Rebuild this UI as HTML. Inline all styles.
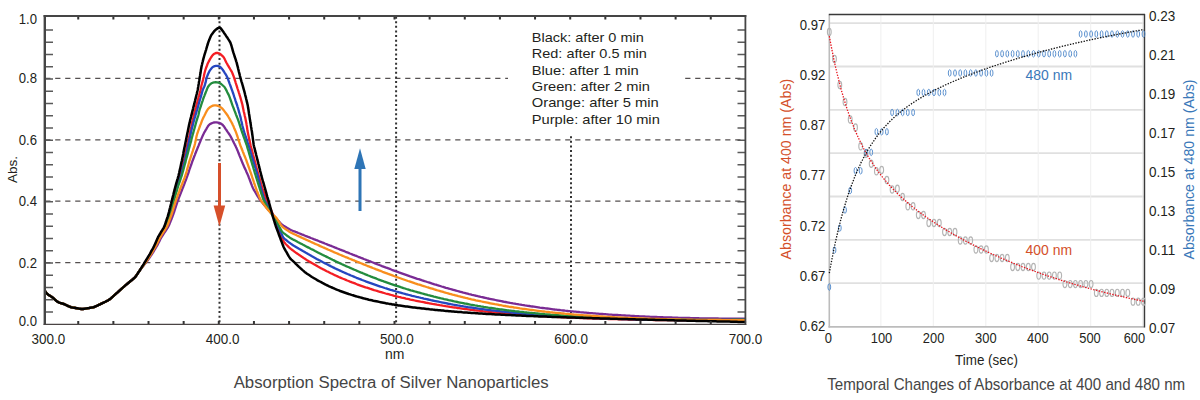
<!DOCTYPE html>
<html><head><meta charset="utf-8"><style>
html,body{margin:0;padding:0;background:#fff;width:1200px;height:400px;overflow:hidden}
svg{display:block}
text{font-family:"Liberation Sans", sans-serif}
</style></head><body>
<svg width="1200" height="400" viewBox="0 0 1200 400">
<line x1="45.2" y1="262.6" x2="744" y2="262.6" stroke="#555050" stroke-width="1.35" stroke-dasharray="5.25,4.75"/>
<line x1="45.2" y1="201.1" x2="744" y2="201.1" stroke="#555050" stroke-width="1.35" stroke-dasharray="5.25,4.75"/>
<line x1="45.2" y1="139.8" x2="744" y2="139.8" stroke="#555050" stroke-width="1.35" stroke-dasharray="5.25,4.75"/>
<line x1="45.2" y1="78.4" x2="744" y2="78.4" stroke="#555050" stroke-width="1.35" stroke-dasharray="5.25,4.75"/>
<line x1="219.5" y1="16.65" x2="219.5" y2="323.5" stroke="#333" stroke-width="2" stroke-dasharray="2,2.6"/>
<line x1="396.1" y1="16.65" x2="396.1" y2="323.5" stroke="#333" stroke-width="2" stroke-dasharray="2,2.6"/>
<line x1="571.0" y1="136.25" x2="571.0" y2="323.5" stroke="#333" stroke-width="2" stroke-dasharray="2,2.6"/>
<rect x="508" y="18" width="177" height="117" fill="#fff"/>
<g fill="none" stroke-linejoin="round" stroke-linecap="round">
<path d="M45.3,291.4 L45.9,292.3 L46.7,293.4 L47.8,294.4 L49.1,295.2 L50.3,296.0 L51.6,296.8 L52.8,297.7 L53.9,298.7 L55.0,299.7 L56.2,300.7 L57.3,301.6 L58.6,302.3 L60.0,302.9 L61.4,303.3 L62.9,303.7 L64.3,304.2 L65.6,304.8 L67.0,305.5 L68.3,306.1 L69.7,306.7 L71.1,307.2 L72.6,307.5 L74.0,307.7 L75.5,308.0 L77.0,308.3 L78.5,308.6 L79.9,308.8 L81.4,309.0 L82.9,309.0 L84.4,308.8 L85.9,308.6 L87.3,308.3 L88.8,308.1 L90.3,307.8 L91.8,307.6 L93.2,307.3 L94.7,306.8 L96.0,306.2 L97.4,305.6 L98.7,304.9 L100.1,304.3 L101.4,303.6 L102.8,303.0 L104.1,302.3 L105.5,301.7 L106.8,301.0 L108.2,300.3 L109.4,299.5 L110.6,298.6 L111.7,297.6 L112.8,296.6 L113.9,295.6 L115.0,294.6 L116.1,293.6 L117.3,292.6 L118.4,291.6 L119.5,290.6 L120.6,289.6 L121.7,288.6 L122.8,287.6 L124.0,286.6 L125.1,285.6 L126.3,284.6 L127.4,283.7 L128.6,282.7 L129.7,281.8 L130.9,280.8 L132.1,279.9 L133.2,278.9 L134.3,278.0 L135.3,276.9 L136.2,275.7 L137.1,274.4 L137.9,273.2 L138.7,271.9 L139.6,270.7 L140.5,269.5 L141.4,268.3 L142.3,267.1 L143.3,266.0 L144.2,264.8 L145.2,263.6 L146.1,262.5 L147.0,261.3 L147.9,260.0 L148.7,258.8 L149.6,257.6 L150.4,256.3 L151.3,255.1 L152.1,253.8 L152.9,252.6 L153.7,251.3 L154.5,250.0 L155.3,248.7 L156.0,247.5 L156.8,246.2 L157.5,244.9 L158.2,243.5 L158.9,242.2 L159.6,240.9 L160.2,239.5 L160.9,238.2 L161.7,236.9 L162.5,235.6 L163.3,234.3 L164.1,233.1 L165.0,231.9 L165.8,230.6 L166.6,229.4 L167.4,228.1 L168.2,226.8 L168.9,225.5 L169.5,224.1 L170.0,222.7 L170.6,221.3 L171.2,219.9 L171.7,218.5 L172.3,217.1 L172.8,215.7 L173.3,214.3 L173.8,212.9 L174.3,211.5 L174.7,210.1 L175.2,208.6 L175.7,207.2 L176.1,205.8 L176.6,204.4 L177.1,202.9 L177.5,201.5 L178.0,200.1 L178.6,198.7 L179.1,197.3 L179.7,195.9 L180.2,194.5 L180.8,193.1 L181.3,191.7 L181.9,190.3 L182.4,188.9 L183.0,187.5 L183.5,186.1 L184.1,184.7 L184.6,183.3 L185.1,181.9 L185.7,180.5 L186.2,179.1 L186.7,177.7 L187.2,176.3 L187.7,174.9 L188.2,173.5 L188.7,172.1 L189.1,170.6 L189.6,169.2 L190.1,167.8 L190.6,166.4 L191.1,165.0 L191.6,163.6 L192.1,162.2 L192.6,160.7 L193.2,159.3 L193.7,157.9 L194.2,156.5 L194.8,155.1 L195.3,153.7 L195.9,152.3 L196.4,150.9 L197.0,149.6 L197.5,148.2 L198.1,146.8 L198.7,145.4 L199.2,144.0 L199.8,142.6 L200.4,141.2 L200.9,139.8 L201.5,138.5 L202.1,137.1 L202.7,135.7 L203.4,134.3 L204.0,133.0 L204.8,131.7 L205.5,130.4 L206.3,129.1 L207.0,127.8 L207.8,126.5 L208.6,125.3 L209.7,124.3 L211.0,123.6 L212.3,123.0 L213.7,122.5 L215.1,122.3 L216.6,122.4 L218.0,122.7 L219.5,123.0 L220.8,123.6 L222.1,124.4 L223.1,125.4 L224.1,126.6 L224.9,127.8 L225.7,129.1 L226.6,130.3 L227.4,131.6 L228.3,132.8 L229.1,134.0 L230.0,135.3 L230.7,136.6 L231.4,137.9 L232.1,139.2 L232.8,140.6 L233.5,141.9 L234.1,143.2 L234.8,144.6 L235.5,145.9 L236.1,147.3 L236.7,148.6 L237.3,150.0 L237.9,151.4 L238.4,152.8 L239.0,154.2 L239.5,155.6 L240.1,157.0 L240.7,158.4 L241.2,159.8 L241.8,161.2 L242.3,162.6 L242.9,163.9 L243.5,165.3 L244.1,166.7 L244.7,168.1 L245.4,169.4 L246.0,170.8 L246.6,172.2 L247.2,173.5 L247.8,174.9 L248.4,176.3 L248.9,177.7 L249.5,179.1 L250.0,180.5 L250.5,181.9 L251.0,183.3 L251.6,184.7 L252.1,186.1 L252.7,187.5 L253.3,188.8 L254.0,190.2 L254.8,191.4 L255.6,192.7 L256.3,194.0 L257.1,195.3 L257.9,196.6 L258.7,197.8 L259.5,199.1 L260.4,200.3 L261.3,201.5 L262.3,202.6 L263.2,203.8 L264.2,204.9 L265.2,206.1 L266.2,207.2 L267.1,208.3 L268.1,209.5 L269.1,210.6 L270.1,211.7 L271.1,212.9 L272.1,214.0 L273.1,215.1 L274.1,216.2 L275.1,217.3 L276.1,218.5 L277.1,219.6 L278.1,220.7 L279.2,221.7 L280.2,222.8 L281.2,223.9 L282.4,224.8 L283.6,225.7 L284.9,226.5 L286.2,227.3 L287.4,228.1 L288.7,228.8 L290.0,229.5 L291.4,230.2 L292.8,230.8 L294.2,231.3 L295.6,231.9 L297.0,232.4 L298.3,233.0 L299.7,233.5 L301.1,234.1 L302.5,234.7 L303.9,235.2 L305.3,235.8 L306.7,236.3 L308.1,236.9 L309.5,237.4 L310.9,238.0 L312.3,238.5 L313.7,239.1 L315.1,239.6 L316.5,240.2 L317.9,240.7 L319.3,241.3 L320.7,241.8 L322.1,242.4 L323.5,242.9 L324.8,243.5 L326.2,244.0 L327.6,244.6 L329.0,245.1 L330.4,245.7 L331.8,246.2 L333.2,246.8 L334.6,247.4 L336.0,247.9 L337.4,248.5 L338.8,249.0 L340.2,249.6 L341.6,250.1 L343.0,250.7 L344.4,251.2 L345.7,251.8 L347.1,252.3 L348.5,252.9 L349.9,253.5 L351.3,254.0 L352.7,254.6 L354.1,255.1 L355.5,255.7 L356.9,256.2 L358.3,256.8 L359.7,257.3 L361.1,257.9 L362.5,258.4 L363.9,259.0 L365.3,259.5 L366.7,260.1 L368.1,260.6 L369.5,261.2 L370.9,261.7 L372.3,262.3 L373.6,262.8 L375.0,263.4 L376.4,263.9 L377.8,264.5 L379.2,265.0 L380.6,265.5 L382.0,266.1 L383.4,266.6 L384.8,267.1 L386.3,267.7 L387.7,268.2 L389.1,268.7 L390.5,269.2 L391.9,269.8 L393.3,270.3 L394.7,270.8 L396.1,271.3 L397.5,271.8 L398.9,272.4 L400.3,272.9 L401.7,273.4 L403.1,273.9 L404.6,274.4 L406.0,274.9 L407.4,275.4 L408.8,275.9 L410.2,276.4 L411.6,276.8 L413.1,277.3 L414.5,277.8 L415.9,278.3 L417.3,278.8 L418.8,279.2 L420.2,279.7 L421.6,280.2 L423.0,280.6 L424.5,281.1 L425.9,281.5 L427.3,282.0 L428.7,282.4 L430.2,282.9 L431.6,283.4 L433.0,283.8 L434.5,284.3 L435.9,284.7 L437.3,285.2 L438.8,285.6 L440.2,286.0 L441.6,286.5 L443.1,286.9 L444.5,287.3 L445.9,287.8 L447.4,288.2 L448.8,288.6 L450.3,289.0 L451.7,289.4 L453.2,289.8 L454.6,290.2 L456.0,290.6 L457.5,291.0 L458.9,291.4 L460.4,291.8 L461.8,292.2 L463.3,292.6 L464.7,292.9 L466.2,293.3 L467.6,293.7 L469.1,294.1 L470.6,294.4 L472.0,294.8 L473.5,295.1 L474.9,295.5 L476.4,295.8 L477.8,296.2 L479.3,296.5 L480.8,296.9 L482.2,297.2 L483.7,297.5 L485.2,297.8 L486.6,298.2 L488.1,298.5 L489.6,298.8 L491.0,299.1 L492.5,299.4 L494.0,299.7 L495.4,300.0 L496.9,300.3 L498.4,300.6 L499.8,300.9 L501.3,301.2 L502.8,301.5 L504.3,301.8 L505.7,302.0 L507.2,302.3 L508.7,302.6 L510.2,302.9 L511.6,303.1 L513.1,303.4 L514.6,303.6 L516.1,303.9 L517.5,304.1 L519.0,304.4 L520.5,304.6 L522.0,304.9 L523.5,305.1 L525.0,305.4 L526.4,305.6 L527.9,305.8 L529.4,306.0 L530.9,306.3 L532.4,306.5 L533.8,306.7 L535.3,306.9 L536.8,307.1 L538.3,307.3 L539.8,307.6 L541.3,307.8 L542.8,308.0 L544.2,308.2 L545.7,308.4 L547.2,308.5 L548.7,308.7 L550.2,308.9 L551.7,309.1 L553.2,309.3 L554.7,309.5 L556.2,309.6 L557.6,309.8 L559.1,310.0 L560.6,310.2 L562.1,310.3 L563.6,310.5 L565.1,310.7 L566.6,310.8 L568.1,311.0 L569.6,311.1 L571.1,311.3 L572.6,311.4 L574.1,311.6 L575.5,311.7 L577.0,311.9 L578.5,312.0 L580.0,312.2 L581.5,312.3 L583.0,312.4 L584.5,312.6 L586.0,312.7 L587.5,312.8 L589.0,313.0 L590.5,313.1 L592.0,313.2 L593.5,313.3 L595.0,313.4 L596.5,313.6 L598.0,313.7 L599.5,313.8 L600.9,313.9 L602.4,314.0 L603.9,314.1 L605.4,314.2 L606.9,314.3 L608.4,314.5 L609.9,314.6 L611.4,314.7 L612.9,314.8 L614.4,314.9 L615.9,314.9 L617.4,315.0 L618.9,315.1 L620.4,315.2 L621.9,315.3 L623.4,315.4 L624.9,315.5 L626.4,315.6 L627.9,315.7 L629.4,315.7 L630.9,315.8 L632.4,315.9 L633.9,316.0 L635.4,316.1 L636.9,316.1 L638.4,316.2 L639.9,316.3 L641.4,316.4 L642.9,316.4 L644.4,316.5 L645.9,316.6 L647.4,316.6 L648.9,316.7 L650.4,316.8 L651.9,316.8 L653.4,316.9 L654.9,316.9 L656.4,317.0 L657.9,317.1 L659.4,317.1 L660.9,317.2 L662.4,317.2 L663.9,317.3 L665.4,317.3 L666.9,317.4 L668.4,317.4 L669.9,317.5 L671.4,317.5 L672.9,317.6 L674.4,317.6 L675.8,317.7 L677.3,317.7 L678.8,317.8 L680.3,317.8 L681.8,317.8 L683.3,317.9 L684.8,317.9 L686.3,318.0 L687.8,318.0 L689.3,318.0 L690.8,318.1 L692.3,318.1 L693.8,318.1 L695.3,318.2 L696.8,318.2 L698.3,318.2 L699.8,318.3 L701.3,318.3 L702.8,318.3 L704.3,318.3 L705.8,318.4 L707.3,318.4 L708.8,318.4 L710.3,318.4 L711.8,318.5 L713.3,318.5 L714.8,318.5 L716.3,318.5 L717.8,318.5 L719.3,318.6 L720.8,318.6 L722.3,318.6 L723.8,318.6 L725.3,318.6 L726.8,318.6 L728.3,318.6 L729.8,318.7 L731.3,318.7 L732.8,318.7 L734.3,318.7 L735.8,318.7 L737.3,318.7 L738.8,318.7 L740.3,318.7 L741.8,318.7 L743.3,318.7 L744.3,318.7 L745.0,318.7" stroke="#7a2b94" stroke-width="2.3"/>
<path d="M45.3,291.4 L45.9,292.3 L46.7,293.4 L47.8,294.4 L49.1,295.2 L50.3,296.0 L51.6,296.8 L52.8,297.7 L53.9,298.7 L55.0,299.7 L56.2,300.7 L57.3,301.6 L58.6,302.3 L60.0,302.9 L61.4,303.3 L62.9,303.7 L64.3,304.2 L65.6,304.8 L67.0,305.5 L68.3,306.1 L69.7,306.7 L71.1,307.2 L72.6,307.5 L74.0,307.7 L75.5,308.0 L77.0,308.3 L78.5,308.6 L79.9,308.8 L81.4,309.0 L82.9,309.0 L84.4,308.8 L85.9,308.6 L87.3,308.3 L88.8,308.1 L90.3,307.8 L91.8,307.6 L93.2,307.3 L94.7,306.8 L96.0,306.2 L97.4,305.6 L98.7,304.9 L100.1,304.3 L101.4,303.6 L102.8,303.0 L104.1,302.3 L105.5,301.7 L106.8,301.0 L108.2,300.3 L109.4,299.5 L110.6,298.6 L111.7,297.6 L112.8,296.6 L113.9,295.6 L115.0,294.6 L116.1,293.6 L117.3,292.6 L118.4,291.6 L119.5,290.6 L120.6,289.6 L121.7,288.6 L122.8,287.6 L124.0,286.6 L125.1,285.6 L126.3,284.6 L127.4,283.7 L128.6,282.7 L129.7,281.8 L130.9,280.8 L132.1,279.9 L133.2,278.9 L134.3,278.0 L135.3,276.9 L136.2,275.7 L137.1,274.4 L137.9,273.2 L138.7,271.9 L139.6,270.7 L140.4,269.4 L141.2,268.2 L142.0,266.9 L142.9,265.7 L143.7,264.4 L144.5,263.2 L145.3,261.9 L146.1,260.6 L146.9,259.3 L147.7,258.1 L148.5,256.8 L149.2,255.5 L150.0,254.2 L150.7,252.9 L151.5,251.6 L152.2,250.3 L152.9,248.9 L153.6,247.6 L154.3,246.3 L155.0,245.0 L155.6,243.6 L156.3,242.2 L156.9,240.9 L157.4,239.5 L158.1,238.1 L158.8,236.8 L159.5,235.5 L160.3,234.2 L161.1,232.9 L161.9,231.7 L162.7,230.4 L163.4,229.1 L164.2,227.8 L164.8,226.5 L165.4,225.1 L166.0,223.7 L166.5,222.3 L167.0,220.9 L167.4,219.4 L167.9,218.0 L168.4,216.6 L168.9,215.2 L169.3,213.7 L169.7,212.3 L170.1,210.9 L170.5,209.4 L170.9,208.0 L171.3,206.5 L171.6,205.1 L172.0,203.6 L172.4,202.2 L172.8,200.7 L173.2,199.3 L173.6,197.8 L174.0,196.4 L174.4,194.9 L174.8,193.5 L175.2,192.0 L175.6,190.6 L176.0,189.1 L176.4,187.7 L176.8,186.2 L177.2,184.8 L177.7,183.4 L178.1,182.0 L178.6,180.5 L179.0,179.1 L179.5,177.7 L179.9,176.2 L180.3,174.8 L180.7,173.3 L181.1,171.9 L181.4,170.4 L181.8,169.0 L182.2,167.5 L182.5,166.1 L182.9,164.6 L183.2,163.1 L183.6,161.7 L183.9,160.2 L184.3,158.8 L184.6,157.3 L184.9,155.8 L185.2,154.4 L185.5,152.9 L185.9,151.4 L186.2,150.0 L186.5,148.5 L186.8,147.0 L187.1,145.6 L187.4,144.1 L187.8,142.6 L188.1,141.2 L188.4,139.7 L188.7,138.2 L189.0,136.8 L189.4,135.3 L189.7,133.8 L190.0,132.4 L190.3,130.9 L190.6,129.4 L190.9,128.0 L191.3,126.5 L191.6,125.0 L191.9,123.6 L192.2,122.1 L192.6,120.7 L192.9,119.2 L193.3,117.7 L193.6,116.3 L194.0,114.8 L194.4,113.4 L194.7,111.9 L195.1,110.5 L195.5,109.0 L195.9,107.6 L196.2,106.1 L196.6,104.7 L197.0,103.2 L197.4,101.8 L197.8,100.3 L198.2,98.9 L198.6,97.4 L199.0,96.0 L199.3,94.5 L199.7,93.1 L200.1,91.6 L200.5,90.2 L200.8,88.7 L201.1,87.2 L201.4,85.8 L201.8,84.3 L202.2,82.9 L202.6,81.4 L203.0,80.0 L203.3,78.5 L203.7,77.1 L204.0,75.6 L204.3,74.1 L204.6,72.7 L205.0,71.2 L205.4,69.8 L205.9,68.4 L206.4,67.0 L207.0,65.5 L207.5,64.1 L208.1,62.8 L208.8,61.4 L209.5,60.1 L210.2,58.8 L211.0,57.5 L211.8,56.3 L212.7,55.1 L213.8,54.1 L215.1,53.4 L216.4,52.9 L217.8,53.0 L219.2,53.4 L220.4,54.1 L221.5,55.1 L222.6,56.1 L223.6,57.2 L224.4,58.5 L225.0,59.8 L225.7,61.2 L226.3,62.5 L227.1,63.8 L227.8,65.1 L228.6,66.4 L229.3,67.7 L230.1,69.0 L230.9,70.3 L231.7,71.6 L232.3,72.9 L232.8,74.3 L233.4,75.7 L233.9,77.1 L234.4,78.5 L234.8,80.0 L235.3,81.4 L235.7,82.8 L236.2,84.3 L236.6,85.7 L237.1,87.1 L237.5,88.5 L238.0,90.0 L238.5,91.4 L238.9,92.8 L239.4,94.2 L239.8,95.7 L240.3,97.1 L240.7,98.6 L241.1,100.0 L241.5,101.4 L241.9,102.9 L242.3,104.3 L242.6,105.8 L242.9,107.3 L243.2,108.7 L243.5,110.2 L243.8,111.7 L244.2,113.1 L244.5,114.6 L244.8,116.1 L245.2,117.5 L245.5,119.0 L245.8,120.5 L246.1,121.9 L246.4,123.4 L246.6,124.9 L246.9,126.4 L247.1,127.8 L247.3,129.3 L247.5,130.8 L247.8,132.3 L248.1,133.8 L248.4,135.2 L248.7,136.7 L249.0,138.2 L249.3,139.6 L249.7,141.1 L250.0,142.6 L250.3,144.0 L250.6,145.5 L251.0,146.9 L251.4,148.4 L251.8,149.8 L252.2,151.3 L252.6,152.7 L252.9,154.2 L253.3,155.6 L253.7,157.1 L254.1,158.5 L254.5,160.0 L254.9,161.4 L255.3,162.9 L255.7,164.3 L256.0,165.8 L256.4,167.2 L256.8,168.7 L257.2,170.1 L257.6,171.6 L258.0,173.0 L258.4,174.5 L258.8,175.9 L259.2,177.4 L259.6,178.8 L260.0,180.2 L260.5,181.7 L260.9,183.1 L261.3,184.5 L261.8,186.0 L262.2,187.4 L262.6,188.8 L263.1,190.3 L263.6,191.7 L264.1,193.1 L264.6,194.5 L265.1,195.9 L265.6,197.4 L266.1,198.8 L266.6,200.2 L267.2,201.5 L267.8,202.9 L268.4,204.3 L269.0,205.7 L269.7,207.0 L270.3,208.4 L270.9,209.8 L271.5,211.1 L272.1,212.5 L272.7,213.9 L273.3,215.3 L273.8,216.7 L274.3,218.1 L274.7,219.5 L275.2,220.9 L275.6,222.4 L276.0,223.8 L276.5,225.3 L276.9,226.7 L277.4,228.1 L277.9,229.5 L278.5,230.9 L279.2,232.2 L279.8,233.6 L280.5,234.9 L281.1,236.3 L281.8,237.6 L282.4,239.0 L283.1,240.3 L283.8,241.6 L284.6,242.8 L285.6,244.0 L286.7,245.0 L287.8,246.1 L288.8,247.1 L289.9,248.1 L291.1,249.1 L292.3,250.0 L293.5,250.9 L294.7,251.8 L295.9,252.7 L297.1,253.5 L298.4,254.4 L299.6,255.2 L300.8,256.1 L302.1,256.9 L303.3,257.7 L304.6,258.6 L305.9,259.4 L307.1,260.2 L308.4,261.0 L309.7,261.7 L311.0,262.5 L312.3,263.3 L313.6,264.0 L314.9,264.8 L316.2,265.5 L317.5,266.3 L318.8,267.0 L320.1,267.7 L321.4,268.4 L322.7,269.1 L324.1,269.8 L325.4,270.5 L326.7,271.2 L328.1,271.8 L329.4,272.5 L330.8,273.2 L332.1,273.8 L333.5,274.5 L334.8,275.1 L336.2,275.7 L337.6,276.4 L338.9,277.0 L340.3,277.6 L341.7,278.2 L343.1,278.8 L344.4,279.3 L345.8,279.9 L347.2,280.5 L348.6,281.0 L350.0,281.6 L351.4,282.1 L352.8,282.7 L354.2,283.2 L355.6,283.7 L357.0,284.3 L358.4,284.8 L359.8,285.3 L361.2,285.8 L362.7,286.3 L364.1,286.8 L365.5,287.3 L366.9,287.7 L368.3,288.2 L369.8,288.7 L371.2,289.1 L372.6,289.6 L374.1,290.1 L375.5,290.5 L376.9,290.9 L378.4,291.4 L379.8,291.8 L381.2,292.2 L382.7,292.6 L384.1,293.0 L385.6,293.5 L387.0,293.8 L388.5,294.2 L389.9,294.6 L391.4,295.0 L392.8,295.4 L394.3,295.8 L395.7,296.1 L397.2,296.5 L398.6,296.9 L400.1,297.2 L401.5,297.6 L403.0,297.9 L404.5,298.2 L405.9,298.6 L407.4,298.9 L408.9,299.2 L410.3,299.6 L411.8,299.9 L413.3,300.2 L414.7,300.5 L416.2,300.8 L417.7,301.1 L419.1,301.4 L420.6,301.7 L422.1,301.9 L423.5,302.2 L425.0,302.5 L426.5,302.8 L428.0,303.0 L429.4,303.3 L430.9,303.6 L432.4,303.9 L433.9,304.1 L435.4,304.4 L436.8,304.7 L438.3,304.9 L439.8,305.2 L441.3,305.4 L442.7,305.7 L444.2,305.9 L445.7,306.2 L447.2,306.4 L448.7,306.6 L450.1,306.9 L451.6,307.1 L453.1,307.3 L454.6,307.5 L456.1,307.7 L457.6,308.0 L459.1,308.2 L460.5,308.4 L462.0,308.6 L463.5,308.8 L465.0,309.0 L466.5,309.2 L468.0,309.4 L469.5,309.6 L470.9,309.8 L472.4,309.9 L473.9,310.1 L475.4,310.3 L476.9,310.5 L478.4,310.7 L479.9,310.8 L481.4,311.0 L482.9,311.2 L484.4,311.3 L485.8,311.5 L487.3,311.7 L488.8,311.8 L490.3,312.0 L491.8,312.1 L493.3,312.3 L494.8,312.4 L496.3,312.6 L497.8,312.7 L499.3,312.8 L500.8,313.0 L502.3,313.1 L503.8,313.3 L505.3,313.4 L506.7,313.5 L508.2,313.7 L509.7,313.8 L511.2,313.9 L512.7,314.0 L514.2,314.2 L515.7,314.3 L517.2,314.4 L518.7,314.5 L520.2,314.6 L521.7,314.7 L523.2,314.8 L524.7,315.0 L526.2,315.1 L527.7,315.2 L529.2,315.3 L530.7,315.4 L532.2,315.5 L533.7,315.6 L535.2,315.7 L536.7,315.8 L538.2,315.9 L539.7,316.0 L541.2,316.0 L542.6,316.1 L544.1,316.2 L545.6,316.3 L547.1,316.4 L548.6,316.5 L550.1,316.6 L551.6,316.7 L553.1,316.7 L554.6,316.8 L556.1,316.9 L557.6,317.0 L559.1,317.0 L560.6,317.1 L562.1,317.2 L563.6,317.3 L565.1,317.3 L566.6,317.4 L568.1,317.5 L569.6,317.5 L571.1,317.6 L572.6,317.7 L574.1,317.7 L575.6,317.8 L577.1,317.9 L578.6,317.9 L580.1,318.0 L581.6,318.1 L583.1,318.1 L584.6,318.2 L586.1,318.2 L587.6,318.3 L589.1,318.3 L590.6,318.4 L592.1,318.4 L593.6,318.5 L595.1,318.6 L596.6,318.6 L598.1,318.7 L599.6,318.7 L601.1,318.8 L602.6,318.8 L604.1,318.8 L605.6,318.9 L607.1,318.9 L608.6,319.0 L610.1,319.0 L611.6,319.1 L613.1,319.1 L614.6,319.1 L616.1,319.2 L617.6,319.2 L619.1,319.3 L620.6,319.3 L622.1,319.3 L623.6,319.4 L625.1,319.4 L626.6,319.4 L628.1,319.5 L629.6,319.5 L631.1,319.6 L632.6,319.6 L634.1,319.6 L635.6,319.6 L637.1,319.7 L638.6,319.7 L640.1,319.7 L641.6,319.8 L643.1,319.8 L644.6,319.8 L646.1,319.8 L647.6,319.9 L649.1,319.9 L650.6,319.9 L652.1,319.9 L653.6,320.0 L655.1,320.0 L656.6,320.0 L658.1,320.0 L659.6,320.1 L661.1,320.1 L662.6,320.1 L664.1,320.1 L665.6,320.1 L667.1,320.2 L668.6,320.2 L670.1,320.2 L671.6,320.2 L673.1,320.2 L674.6,320.3 L676.1,320.3 L677.6,320.3 L679.1,320.3 L680.6,320.3 L682.1,320.3 L683.6,320.3 L685.1,320.4 L686.6,320.4 L688.1,320.4 L689.6,320.4 L691.1,320.4 L692.6,320.4 L694.1,320.4 L695.6,320.4 L697.1,320.4 L698.6,320.4 L700.1,320.5 L701.6,320.5 L703.1,320.5 L704.6,320.5 L706.1,320.5 L707.6,320.5 L709.1,320.5 L710.6,320.5 L712.1,320.5 L713.6,320.5 L715.1,320.5 L716.6,320.5 L718.1,320.5 L719.6,320.5 L721.1,320.5 L722.6,320.5 L724.1,320.5 L725.6,320.5 L727.1,320.5 L728.6,320.5 L730.1,320.5 L731.6,320.5 L733.1,320.5 L734.6,320.5 L736.1,320.5 L737.6,320.5 L739.1,320.5 L740.6,320.5 L742.1,320.5 L743.4,320.5 L745.0,320.5" stroke="#f41e24" stroke-width="2.3"/>
<path d="M45.3,291.4 L45.9,292.3 L46.7,293.4 L47.8,294.4 L49.1,295.2 L50.3,296.0 L51.6,296.8 L52.8,297.7 L53.9,298.7 L55.0,299.7 L56.2,300.7 L57.3,301.6 L58.6,302.3 L60.0,302.9 L61.4,303.3 L62.9,303.7 L64.3,304.2 L65.6,304.8 L67.0,305.5 L68.3,306.1 L69.7,306.7 L71.1,307.2 L72.6,307.5 L74.0,307.7 L75.5,308.0 L77.0,308.3 L78.5,308.6 L79.9,308.8 L81.4,309.0 L82.9,309.0 L84.4,308.8 L85.9,308.6 L87.3,308.3 L88.8,308.1 L90.3,307.8 L91.8,307.6 L93.2,307.3 L94.7,306.8 L96.0,306.2 L97.4,305.6 L98.7,304.9 L100.1,304.3 L101.4,303.6 L102.8,303.0 L104.1,302.3 L105.5,301.7 L106.8,301.0 L108.2,300.3 L109.4,299.5 L110.6,298.6 L111.7,297.6 L112.8,296.6 L113.9,295.6 L115.0,294.6 L116.1,293.6 L117.3,292.6 L118.4,291.6 L119.5,290.6 L120.6,289.6 L121.7,288.6 L122.8,287.6 L124.0,286.6 L125.1,285.6 L126.3,284.6 L127.4,283.7 L128.6,282.7 L129.7,281.8 L130.9,280.8 L132.1,279.9 L133.2,278.9 L134.3,278.0 L135.3,276.9 L136.2,275.7 L137.1,274.4 L137.9,273.2 L138.7,271.9 L139.6,270.7 L140.4,269.4 L141.2,268.2 L142.1,266.9 L142.9,265.7 L143.8,264.5 L144.6,263.2 L145.5,262.0 L146.3,260.7 L147.1,259.4 L147.8,258.2 L148.6,256.9 L149.4,255.6 L150.1,254.3 L150.9,253.0 L151.6,251.7 L152.3,250.4 L153.0,249.0 L153.8,247.7 L154.5,246.4 L155.2,245.1 L155.8,243.7 L156.4,242.4 L157.1,241.0 L157.7,239.6 L158.3,238.3 L159.0,236.9 L159.7,235.6 L160.5,234.3 L161.3,233.1 L162.1,231.8 L162.9,230.5 L163.7,229.3 L164.4,227.9 L165.1,226.6 L165.7,225.3 L166.3,223.9 L166.8,222.5 L167.3,221.0 L167.8,219.6 L168.3,218.2 L168.7,216.8 L169.2,215.4 L169.7,213.9 L170.1,212.5 L170.5,211.1 L170.9,209.6 L171.3,208.2 L171.7,206.7 L172.1,205.3 L172.5,203.8 L172.9,202.4 L173.3,200.9 L173.7,199.5 L174.1,198.0 L174.5,196.6 L174.9,195.2 L175.3,193.7 L175.7,192.3 L176.1,190.8 L176.6,189.4 L177.0,187.9 L177.4,186.5 L177.8,185.1 L178.3,183.7 L178.8,182.2 L179.2,180.8 L179.7,179.4 L180.2,177.9 L180.6,176.5 L181.1,175.1 L181.5,173.6 L181.9,172.2 L182.2,170.7 L182.6,169.3 L183.0,167.8 L183.4,166.4 L183.7,164.9 L184.1,163.5 L184.5,162.0 L184.8,160.6 L185.2,159.1 L185.5,157.6 L185.8,156.2 L186.1,154.7 L186.5,153.2 L186.8,151.8 L187.1,150.3 L187.4,148.9 L187.7,147.4 L188.1,145.9 L188.4,144.5 L188.7,143.0 L189.0,141.5 L189.3,140.1 L189.6,138.6 L190.0,137.1 L190.3,135.7 L190.6,134.2 L190.9,132.7 L191.2,131.3 L191.6,129.8 L191.9,128.3 L192.3,126.9 L192.7,125.4 L193.1,124.0 L193.4,122.5 L193.8,121.1 L194.2,119.6 L194.6,118.2 L195.1,116.8 L195.5,115.3 L195.9,113.9 L196.3,112.4 L196.7,111.0 L197.2,109.6 L197.6,108.1 L198.0,106.7 L198.4,105.2 L198.8,103.8 L199.2,102.4 L199.6,100.9 L200.0,99.5 L200.5,98.0 L200.9,96.6 L201.3,95.1 L201.7,93.7 L202.1,92.2 L202.5,90.8 L203.0,89.4 L203.6,88.0 L204.2,86.7 L204.8,85.3 L205.2,83.8 L205.6,82.4 L205.9,80.9 L206.2,79.5 L206.5,78.0 L207.0,76.6 L207.6,75.2 L208.2,73.8 L208.8,72.5 L209.5,71.1 L210.3,69.9 L211.2,68.7 L212.1,67.6 L213.3,66.7 L214.6,66.1 L216.0,65.8 L217.5,65.9 L218.9,66.3 L220.1,66.9 L221.2,67.9 L222.2,69.1 L223.1,70.3 L223.9,71.5 L224.7,72.8 L225.5,74.0 L226.3,75.3 L227.0,76.7 L227.6,78.0 L228.1,79.4 L228.6,80.8 L229.1,82.2 L229.6,83.6 L230.2,85.1 L230.7,86.5 L231.2,87.9 L231.7,89.3 L232.2,90.7 L232.7,92.1 L233.2,93.5 L233.7,95.0 L234.1,96.4 L234.6,97.8 L235.1,99.2 L235.5,100.6 L236.0,102.1 L236.5,103.5 L237.0,104.9 L237.4,106.3 L237.9,107.8 L238.3,109.2 L238.7,110.6 L239.1,112.1 L239.5,113.5 L239.9,115.0 L240.3,116.4 L240.7,117.9 L241.0,119.4 L241.3,120.8 L241.7,122.3 L242.0,123.7 L242.3,125.2 L242.7,126.7 L243.1,128.1 L243.5,129.5 L243.9,131.0 L244.3,132.4 L244.8,133.9 L245.3,135.3 L245.7,136.7 L246.2,138.1 L246.7,139.6 L247.2,141.0 L247.6,142.4 L248.1,143.8 L248.6,145.3 L249.0,146.7 L249.4,148.1 L249.9,149.6 L250.3,151.0 L250.7,152.4 L251.2,153.9 L251.6,155.3 L252.0,156.7 L252.5,158.2 L252.9,159.6 L253.3,161.1 L253.7,162.5 L254.2,163.9 L254.6,165.4 L255.0,166.8 L255.5,168.2 L255.9,169.7 L256.3,171.1 L256.8,172.5 L257.2,174.0 L257.6,175.4 L258.0,176.9 L258.4,178.3 L258.7,179.8 L259.1,181.2 L259.5,182.7 L259.9,184.1 L260.2,185.6 L260.6,187.0 L261.0,188.5 L261.4,189.9 L261.9,191.4 L262.3,192.8 L262.7,194.2 L263.2,195.7 L263.6,197.1 L264.1,198.5 L264.6,199.9 L265.2,201.3 L265.9,202.6 L266.7,203.9 L267.4,205.2 L268.1,206.5 L268.8,207.9 L269.5,209.2 L270.3,210.5 L271.0,211.8 L271.8,213.1 L272.5,214.4 L273.2,215.7 L274.0,217.0 L274.6,218.4 L275.2,219.7 L275.9,221.1 L276.5,222.5 L277.1,223.8 L277.7,225.2 L278.3,226.6 L278.9,227.9 L279.5,229.3 L280.1,230.7 L280.7,232.1 L281.3,233.5 L281.9,234.8 L282.5,236.2 L283.3,237.4 L284.3,238.5 L285.4,239.5 L286.6,240.4 L287.7,241.4 L288.9,242.3 L290.1,243.2 L291.3,244.1 L292.6,244.9 L293.9,245.7 L295.1,246.4 L296.4,247.2 L297.7,248.0 L299.0,248.8 L300.3,249.5 L301.6,250.3 L302.9,251.1 L304.2,251.8 L305.5,252.6 L306.8,253.3 L308.1,254.1 L309.4,254.8 L310.7,255.5 L312.0,256.3 L313.3,257.0 L314.6,257.7 L315.9,258.4 L317.2,259.2 L318.6,259.9 L319.9,260.6 L321.2,261.3 L322.5,262.0 L323.9,262.7 L325.2,263.4 L326.5,264.0 L327.9,264.7 L329.2,265.4 L330.6,266.1 L331.9,266.7 L333.2,267.4 L334.6,268.1 L335.9,268.7 L337.3,269.4 L338.7,270.0 L340.0,270.6 L341.4,271.3 L342.7,271.9 L344.1,272.5 L345.5,273.1 L346.9,273.7 L348.2,274.3 L349.6,274.9 L351.0,275.5 L352.4,276.0 L353.8,276.6 L355.2,277.2 L356.5,277.8 L357.9,278.3 L359.3,278.9 L360.7,279.4 L362.1,280.0 L363.5,280.5 L364.9,281.0 L366.3,281.6 L367.7,282.1 L369.1,282.6 L370.6,283.1 L372.0,283.6 L373.4,284.1 L374.8,284.6 L376.2,285.1 L377.6,285.6 L379.0,286.1 L380.5,286.6 L381.9,287.0 L383.3,287.5 L384.7,288.0 L386.2,288.4 L387.6,288.9 L389.0,289.3 L390.5,289.8 L391.9,290.2 L393.3,290.6 L394.8,291.0 L396.2,291.5 L397.7,291.9 L399.1,292.3 L400.5,292.7 L402.0,293.1 L403.4,293.5 L404.9,293.9 L406.3,294.3 L407.8,294.7 L409.2,295.0 L410.7,295.4 L412.1,295.8 L413.6,296.1 L415.1,296.5 L416.5,296.9 L418.0,297.2 L419.4,297.5 L420.9,297.9 L422.4,298.2 L423.8,298.6 L425.3,298.9 L426.7,299.2 L428.2,299.5 L429.7,299.8 L431.1,300.2 L432.6,300.5 L434.1,300.8 L435.5,301.1 L437.0,301.4 L438.5,301.7 L439.9,302.0 L441.4,302.3 L442.9,302.6 L444.4,302.9 L445.8,303.2 L447.3,303.5 L448.8,303.8 L450.3,304.0 L451.7,304.3 L453.2,304.6 L454.7,304.8 L456.2,305.1 L457.6,305.4 L459.1,305.6 L460.6,305.9 L462.1,306.1 L463.6,306.4 L465.0,306.6 L466.5,306.8 L468.0,307.1 L469.5,307.3 L471.0,307.5 L472.4,307.7 L473.9,308.0 L475.4,308.2 L476.9,308.4 L478.4,308.6 L479.9,308.8 L481.4,309.0 L482.8,309.2 L484.3,309.4 L485.8,309.6 L487.3,309.8 L488.8,310.0 L490.3,310.2 L491.8,310.4 L493.3,310.5 L494.8,310.7 L496.2,310.9 L497.7,311.1 L499.2,311.2 L500.7,311.4 L502.2,311.6 L503.7,311.7 L505.2,311.9 L506.7,312.0 L508.2,312.2 L509.7,312.4 L511.2,312.5 L512.6,312.7 L514.1,312.8 L515.6,312.9 L517.1,313.1 L518.6,313.2 L520.1,313.4 L521.6,313.5 L523.1,313.6 L524.6,313.8 L526.1,313.9 L527.6,314.0 L529.1,314.1 L530.6,314.3 L532.1,314.4 L533.6,314.5 L535.1,314.6 L536.6,314.7 L538.0,314.9 L539.5,315.0 L541.0,315.1 L542.5,315.2 L544.0,315.3 L545.5,315.4 L547.0,315.5 L548.5,315.6 L550.0,315.7 L551.5,315.8 L553.0,315.9 L554.5,316.0 L556.0,316.1 L557.5,316.2 L559.0,316.3 L560.5,316.4 L562.0,316.5 L563.5,316.5 L565.0,316.6 L566.5,316.7 L568.0,316.8 L569.5,316.9 L571.0,317.0 L572.5,317.0 L574.0,317.1 L575.5,317.2 L577.0,317.3 L578.5,317.3 L580.0,317.4 L581.5,317.5 L583.0,317.5 L584.5,317.6 L586.0,317.7 L587.5,317.7 L589.0,317.8 L590.5,317.9 L592.0,317.9 L593.5,318.0 L595.0,318.0 L596.5,318.1 L598.0,318.2 L599.5,318.2 L601.0,318.3 L602.5,318.3 L604.0,318.4 L605.4,318.4 L606.9,318.5 L608.4,318.5 L609.9,318.6 L611.4,318.6 L612.9,318.7 L614.4,318.7 L615.9,318.8 L617.4,318.8 L618.9,318.9 L620.4,318.9 L621.9,319.0 L623.4,319.0 L624.9,319.0 L626.4,319.1 L627.9,319.1 L629.4,319.2 L630.9,319.2 L632.4,319.2 L633.9,319.3 L635.4,319.3 L636.9,319.3 L638.4,319.4 L639.9,319.4 L641.4,319.4 L642.9,319.5 L644.4,319.5 L645.9,319.5 L647.4,319.6 L648.9,319.6 L650.4,319.6 L651.9,319.6 L653.4,319.7 L654.9,319.7 L656.4,319.7 L657.9,319.7 L659.4,319.8 L660.9,319.8 L662.4,319.8 L663.9,319.8 L665.4,319.8 L666.9,319.9 L668.4,319.9 L669.9,319.9 L671.4,319.9 L672.9,319.9 L674.4,320.0 L675.9,320.0 L677.4,320.0 L678.9,320.0 L680.4,320.0 L681.9,320.0 L683.4,320.0 L684.9,320.1 L686.4,320.1 L687.9,320.1 L689.4,320.1 L690.9,320.1 L692.4,320.1 L693.9,320.1 L695.4,320.1 L696.9,320.1 L698.4,320.1 L699.9,320.1 L701.4,320.1 L702.9,320.2 L704.4,320.2 L705.9,320.2 L707.4,320.2 L708.9,320.2 L710.4,320.2 L711.9,320.2 L713.4,320.2 L714.9,320.2 L716.4,320.2 L717.9,320.2 L719.4,320.2 L720.9,320.2 L722.4,320.2 L723.9,320.1 L725.4,320.1 L726.9,320.1 L728.4,320.1 L729.9,320.1 L731.4,320.1 L732.9,320.1 L734.4,320.1 L735.9,320.1 L737.4,320.1 L738.9,320.1 L740.4,320.1 L741.9,320.0 L743.4,320.0 L744.4,320.0 L745.0,320.0" stroke="#2647c0" stroke-width="2.3"/>
<path d="M45.3,291.4 L45.9,292.3 L46.7,293.4 L47.8,294.4 L49.1,295.2 L50.3,296.0 L51.6,296.8 L52.8,297.7 L53.9,298.7 L55.0,299.7 L56.2,300.7 L57.3,301.6 L58.6,302.3 L60.0,302.9 L61.4,303.3 L62.9,303.7 L64.3,304.2 L65.6,304.8 L67.0,305.5 L68.3,306.1 L69.7,306.7 L71.1,307.2 L72.6,307.5 L74.0,307.7 L75.5,308.0 L77.0,308.3 L78.5,308.6 L79.9,308.8 L81.4,309.0 L82.9,309.0 L84.4,308.8 L85.9,308.6 L87.3,308.3 L88.8,308.1 L90.3,307.8 L91.8,307.6 L93.2,307.3 L94.7,306.8 L96.0,306.2 L97.4,305.6 L98.7,304.9 L100.1,304.3 L101.4,303.6 L102.8,303.0 L104.1,302.3 L105.5,301.7 L106.8,301.0 L108.2,300.3 L109.4,299.5 L110.6,298.6 L111.7,297.6 L112.8,296.6 L113.9,295.6 L115.0,294.6 L116.1,293.6 L117.3,292.6 L118.4,291.6 L119.5,290.6 L120.6,289.6 L121.7,288.6 L122.8,287.6 L124.0,286.6 L125.1,285.6 L126.3,284.6 L127.4,283.7 L128.6,282.7 L129.7,281.8 L130.9,280.8 L132.1,279.9 L133.2,278.9 L134.3,278.0 L135.3,276.9 L136.2,275.7 L137.1,274.4 L137.9,273.2 L138.7,271.9 L139.6,270.7 L140.4,269.4 L141.3,268.2 L142.1,267.0 L143.0,265.8 L143.9,264.5 L144.8,263.3 L145.6,262.1 L146.4,260.8 L147.2,259.5 L148.0,258.3 L148.7,257.0 L149.5,255.7 L150.3,254.4 L151.0,253.1 L151.7,251.8 L152.5,250.5 L153.2,249.1 L153.9,247.8 L154.6,246.5 L155.3,245.2 L156.0,243.8 L156.6,242.5 L157.3,241.1 L157.9,239.8 L158.5,238.4 L159.2,237.1 L159.9,235.8 L160.7,234.5 L161.5,233.2 L162.3,231.9 L163.1,230.7 L163.9,229.4 L164.6,228.1 L165.4,226.8 L166.0,225.4 L166.6,224.0 L167.1,222.6 L167.6,221.2 L168.1,219.8 L168.6,218.4 L169.1,217.0 L169.6,215.6 L170.0,214.1 L170.4,212.7 L170.9,211.3 L171.3,209.8 L171.7,208.4 L172.1,206.9 L172.5,205.5 L172.9,204.0 L173.3,202.6 L173.7,201.1 L174.1,199.7 L174.5,198.3 L175.0,196.8 L175.4,195.4 L175.8,194.0 L176.2,192.5 L176.7,191.1 L177.1,189.6 L177.5,188.2 L178.0,186.8 L178.4,185.3 L178.9,183.9 L179.4,182.5 L179.9,181.1 L180.4,179.7 L180.8,178.2 L181.3,176.8 L181.8,175.4 L182.2,174.0 L182.6,172.5 L183.0,171.1 L183.4,169.6 L183.8,168.2 L184.2,166.7 L184.6,165.3 L185.0,163.8 L185.4,162.4 L185.7,160.9 L186.1,159.5 L186.5,158.0 L186.9,156.6 L187.3,155.1 L187.7,153.7 L188.1,152.2 L188.5,150.8 L188.8,149.3 L189.2,147.9 L189.6,146.4 L190.0,145.0 L190.4,143.5 L190.8,142.1 L191.2,140.6 L191.5,139.2 L191.9,137.7 L192.3,136.3 L192.7,134.8 L193.1,133.4 L193.5,131.9 L193.9,130.5 L194.3,129.0 L194.7,127.6 L195.1,126.2 L195.5,124.7 L195.9,123.3 L196.3,121.8 L196.7,120.4 L197.2,119.0 L197.6,117.5 L198.1,116.1 L198.5,114.7 L198.8,113.2 L199.1,111.7 L199.5,110.3 L199.9,108.8 L200.4,107.4 L200.9,106.0 L201.3,104.6 L201.8,103.2 L202.3,101.7 L202.8,100.3 L203.2,98.9 L203.7,97.5 L204.3,96.1 L204.8,94.7 L205.4,93.3 L205.9,91.9 L206.5,90.5 L207.0,89.1 L207.6,87.7 L208.3,86.4 L209.2,85.3 L210.3,84.2 L211.4,83.3 L212.8,82.7 L214.2,82.4 L215.7,82.2 L217.1,82.4 L218.6,82.7 L219.9,83.2 L221.2,84.0 L222.3,85.0 L223.4,86.0 L224.5,87.0 L225.3,88.3 L226.0,89.6 L226.7,90.9 L227.3,92.3 L228.0,93.6 L228.7,94.9 L229.3,96.3 L229.8,97.7 L230.3,99.1 L230.8,100.5 L231.3,101.9 L231.8,103.4 L232.3,104.8 L232.8,106.2 L233.4,107.6 L233.9,109.0 L234.4,110.4 L235.0,111.8 L235.5,113.2 L236.0,114.6 L236.6,116.0 L237.1,117.4 L237.7,118.8 L238.2,120.2 L238.7,121.6 L239.2,123.0 L239.6,124.5 L240.1,125.9 L240.5,127.3 L241.0,128.7 L241.4,130.2 L241.9,131.6 L242.4,133.0 L242.9,134.4 L243.4,135.9 L243.9,137.3 L244.4,138.7 L244.9,140.1 L245.4,141.5 L245.9,142.9 L246.4,144.3 L246.9,145.7 L247.3,147.2 L247.7,148.6 L248.2,150.1 L248.6,151.5 L249.0,152.9 L249.4,154.4 L249.8,155.8 L250.2,157.3 L250.6,158.7 L251.1,160.2 L251.5,161.6 L251.9,163.0 L252.3,164.5 L252.8,165.9 L253.2,167.3 L253.6,168.8 L254.1,170.2 L254.5,171.6 L254.9,173.1 L255.4,174.5 L255.8,176.0 L256.2,177.4 L256.7,178.8 L257.1,180.3 L257.6,181.7 L258.0,183.1 L258.5,184.6 L258.9,186.0 L259.4,187.4 L259.8,188.8 L260.3,190.3 L260.8,191.7 L261.2,193.1 L261.7,194.5 L262.2,196.0 L262.6,197.4 L263.1,198.8 L263.7,200.2 L264.4,201.5 L265.1,202.8 L265.8,204.2 L266.5,205.5 L267.2,206.8 L268.0,208.1 L268.7,209.4 L269.5,210.7 L270.3,212.0 L271.1,213.2 L271.9,214.5 L272.7,215.8 L273.5,217.0 L274.3,218.3 L275.2,219.5 L276.0,220.8 L276.8,222.0 L277.6,223.3 L278.3,224.6 L279.0,226.0 L279.6,227.3 L280.3,228.6 L281.0,230.0 L281.8,231.2 L282.7,232.4 L283.9,233.3 L285.1,234.2 L286.3,235.1 L287.5,236.0 L288.7,236.8 L289.9,237.7 L291.2,238.4 L292.5,239.2 L293.9,239.9 L295.2,240.6 L296.5,241.3 L297.8,242.0 L299.2,242.7 L300.5,243.4 L301.8,244.1 L303.1,244.8 L304.5,245.5 L305.8,246.2 L307.1,246.9 L308.5,247.6 L309.8,248.3 L311.1,249.0 L312.5,249.6 L313.8,250.3 L315.1,251.0 L316.5,251.7 L317.8,252.4 L319.1,253.1 L320.5,253.7 L321.8,254.4 L323.1,255.1 L324.5,255.8 L325.8,256.4 L327.2,257.1 L328.5,257.8 L329.9,258.4 L331.2,259.1 L332.6,259.8 L333.9,260.4 L335.3,261.1 L336.6,261.7 L338.0,262.4 L339.3,263.0 L340.7,263.6 L342.0,264.3 L343.4,264.9 L344.8,265.5 L346.1,266.1 L347.5,266.7 L348.9,267.3 L350.2,267.9 L351.6,268.5 L353.0,269.1 L354.4,269.7 L355.8,270.3 L357.1,270.9 L358.5,271.5 L359.9,272.1 L361.3,272.7 L362.7,273.2 L364.1,273.8 L365.4,274.4 L366.8,274.9 L368.2,275.5 L369.6,276.0 L371.0,276.6 L372.4,277.1 L373.8,277.7 L375.2,278.2 L376.6,278.7 L378.0,279.3 L379.4,279.8 L380.8,280.3 L382.2,280.8 L383.7,281.4 L385.1,281.9 L386.5,282.4 L387.9,282.9 L389.3,283.4 L390.7,283.9 L392.1,284.3 L393.6,284.8 L395.0,285.3 L396.4,285.8 L397.8,286.2 L399.3,286.7 L400.7,287.2 L402.1,287.6 L403.5,288.1 L405.0,288.5 L406.4,289.0 L407.8,289.4 L409.3,289.8 L410.7,290.3 L412.2,290.7 L413.6,291.1 L415.0,291.5 L416.5,291.9 L417.9,292.3 L419.4,292.7 L420.8,293.1 L422.3,293.5 L423.7,293.9 L425.2,294.3 L426.6,294.7 L428.1,295.1 L429.5,295.4 L431.0,295.8 L432.4,296.2 L433.9,296.6 L435.3,296.9 L436.8,297.3 L438.2,297.7 L439.7,298.0 L441.2,298.4 L442.6,298.7 L444.1,299.1 L445.5,299.4 L447.0,299.7 L448.5,300.1 L449.9,300.4 L451.4,300.7 L452.9,301.0 L454.3,301.4 L455.8,301.7 L457.3,302.0 L458.7,302.3 L460.2,302.6 L461.7,302.9 L463.1,303.2 L464.6,303.5 L466.1,303.7 L467.6,304.0 L469.0,304.3 L470.5,304.6 L472.0,304.8 L473.5,305.1 L474.9,305.4 L476.4,305.6 L477.9,305.9 L479.4,306.1 L480.8,306.4 L482.3,306.6 L483.8,306.9 L485.3,307.1 L486.8,307.3 L488.3,307.6 L489.7,307.8 L491.2,308.0 L492.7,308.2 L494.2,308.4 L495.7,308.7 L497.2,308.9 L498.6,309.1 L500.1,309.3 L501.6,309.5 L503.1,309.7 L504.6,309.9 L506.1,310.1 L507.6,310.3 L509.1,310.5 L510.5,310.6 L512.0,310.8 L513.5,311.0 L515.0,311.2 L516.5,311.3 L518.0,311.5 L519.5,311.7 L521.0,311.8 L522.5,312.0 L524.0,312.2 L525.4,312.3 L526.9,312.5 L528.4,312.6 L529.9,312.8 L531.4,312.9 L532.9,313.1 L534.4,313.2 L535.9,313.4 L537.4,313.5 L538.9,313.6 L540.4,313.8 L541.9,313.9 L543.4,314.0 L544.9,314.2 L546.4,314.3 L547.8,314.4 L549.3,314.5 L550.8,314.7 L552.3,314.8 L553.8,314.9 L555.3,315.0 L556.8,315.1 L558.3,315.2 L559.8,315.3 L561.3,315.4 L562.8,315.5 L564.3,315.7 L565.8,315.8 L567.3,315.9 L568.8,316.0 L570.3,316.0 L571.8,316.1 L573.3,316.2 L574.8,316.3 L576.3,316.4 L577.8,316.5 L579.3,316.6 L580.8,316.7 L582.3,316.8 L583.8,316.8 L585.3,316.9 L586.8,317.0 L588.3,317.1 L589.8,317.2 L591.3,317.2 L592.8,317.3 L594.2,317.4 L595.7,317.4 L597.2,317.5 L598.7,317.6 L600.2,317.6 L601.7,317.7 L603.2,317.8 L604.7,317.8 L606.2,317.9 L607.7,318.0 L609.2,318.0 L610.7,318.1 L612.2,318.1 L613.7,318.2 L615.2,318.3 L616.7,318.3 L618.2,318.4 L619.7,318.4 L621.2,318.5 L622.7,318.5 L624.2,318.6 L625.7,318.6 L627.2,318.7 L628.7,318.7 L630.2,318.7 L631.7,318.8 L633.2,318.8 L634.7,318.9 L636.2,318.9 L637.7,318.9 L639.2,319.0 L640.7,319.0 L642.2,319.1 L643.7,319.1 L645.2,319.1 L646.7,319.2 L648.2,319.2 L649.7,319.2 L651.2,319.3 L652.7,319.3 L654.2,319.3 L655.7,319.3 L657.2,319.4 L658.7,319.4 L660.2,319.4 L661.7,319.5 L663.2,319.5 L664.7,319.5 L666.2,319.5 L667.7,319.5 L669.2,319.6 L670.7,319.6 L672.2,319.6 L673.7,319.6 L675.2,319.6 L676.7,319.7 L678.2,319.7 L679.7,319.7 L681.2,319.7 L682.7,319.7 L684.2,319.7 L685.7,319.7 L687.2,319.8 L688.7,319.8 L690.2,319.8 L691.7,319.8 L693.2,319.8 L694.7,319.8 L696.2,319.8 L697.7,319.8 L699.2,319.8 L700.7,319.8 L702.2,319.8 L703.7,319.8 L705.2,319.8 L706.7,319.8 L708.2,319.8 L709.7,319.8 L711.2,319.8 L712.7,319.8 L714.2,319.8 L715.7,319.8 L717.2,319.8 L718.7,319.8 L720.2,319.8 L721.7,319.8 L723.2,319.8 L724.7,319.8 L726.2,319.8 L727.7,319.8 L729.2,319.8 L730.7,319.8 L732.2,319.7 L733.7,319.7 L735.2,319.7 L736.7,319.7 L738.2,319.7 L739.7,319.7 L741.2,319.6 L742.7,319.6 L743.9,319.6 L745.0,319.6" stroke="#238c3e" stroke-width="2.3"/>
<path d="M45.3,291.4 L45.9,292.3 L46.7,293.4 L47.8,294.4 L49.1,295.2 L50.3,296.0 L51.6,296.8 L52.8,297.7 L53.9,298.7 L55.0,299.7 L56.2,300.7 L57.3,301.6 L58.6,302.3 L60.0,302.9 L61.4,303.3 L62.9,303.7 L64.3,304.2 L65.6,304.8 L67.0,305.5 L68.3,306.1 L69.7,306.7 L71.1,307.2 L72.6,307.5 L74.0,307.7 L75.5,308.0 L77.0,308.3 L78.5,308.6 L79.9,308.8 L81.4,309.0 L82.9,309.0 L84.4,308.8 L85.9,308.6 L87.3,308.3 L88.8,308.1 L90.3,307.8 L91.8,307.6 L93.2,307.3 L94.7,306.8 L96.0,306.2 L97.4,305.6 L98.7,304.9 L100.1,304.3 L101.4,303.6 L102.8,303.0 L104.1,302.3 L105.5,301.7 L106.8,301.0 L108.2,300.3 L109.4,299.5 L110.6,298.6 L111.7,297.6 L112.8,296.6 L113.9,295.6 L115.0,294.6 L116.1,293.6 L117.3,292.6 L118.4,291.6 L119.5,290.6 L120.6,289.6 L121.7,288.6 L122.8,287.6 L124.0,286.6 L125.1,285.6 L126.3,284.6 L127.4,283.7 L128.6,282.7 L129.7,281.8 L130.9,280.8 L132.1,279.9 L133.2,278.9 L134.3,278.0 L135.3,276.9 L136.2,275.7 L137.1,274.4 L137.9,273.2 L138.7,271.9 L139.6,270.7 L140.4,269.4 L141.3,268.2 L142.2,267.0 L143.1,265.8 L144.0,264.6 L144.9,263.4 L145.8,262.2 L146.6,261.0 L147.5,259.7 L148.3,258.5 L149.1,257.2 L149.9,256.0 L150.7,254.7 L151.5,253.4 L152.3,252.1 L153.0,250.8 L153.8,249.5 L154.5,248.2 L155.3,246.9 L156.0,245.6 L156.7,244.3 L157.4,243.0 L158.0,241.6 L158.7,240.2 L159.3,238.9 L160.0,237.6 L160.8,236.3 L161.6,235.0 L162.4,233.7 L163.2,232.5 L164.0,231.2 L164.8,230.0 L165.6,228.7 L166.4,227.4 L167.1,226.1 L167.7,224.7 L168.3,223.3 L168.8,221.9 L169.3,220.5 L169.9,219.1 L170.4,217.7 L170.9,216.3 L171.4,214.9 L171.9,213.5 L172.3,212.1 L172.8,210.6 L173.2,209.2 L173.6,207.7 L174.1,206.3 L174.5,204.9 L175.0,203.4 L175.4,202.0 L175.9,200.6 L176.4,199.2 L176.9,197.8 L177.4,196.3 L177.9,194.9 L178.4,193.5 L179.0,192.1 L179.5,190.7 L180.0,189.3 L180.5,187.9 L181.1,186.5 L181.6,185.1 L182.2,183.7 L182.7,182.3 L183.3,180.9 L183.8,179.6 L184.4,178.2 L184.9,176.8 L185.5,175.3 L185.9,173.9 L186.4,172.5 L186.8,171.0 L187.1,169.6 L187.5,168.1 L187.9,166.7 L188.3,165.2 L188.7,163.8 L189.1,162.4 L189.5,160.9 L190.0,159.5 L190.4,158.1 L190.9,156.6 L191.4,155.2 L191.8,153.8 L192.3,152.4 L192.8,150.9 L193.2,149.5 L193.7,148.1 L194.2,146.7 L194.6,145.2 L195.0,143.8 L195.3,142.3 L195.6,140.8 L195.9,139.4 L196.2,137.9 L196.5,136.4 L196.9,135.0 L197.3,133.5 L197.8,132.1 L198.3,130.7 L198.8,129.3 L199.3,127.9 L199.8,126.5 L200.3,125.1 L200.9,123.7 L201.4,122.3 L201.9,120.9 L202.5,119.5 L203.1,118.1 L203.8,116.8 L204.5,115.5 L205.2,114.1 L205.8,112.8 L206.5,111.4 L207.3,110.1 L208.1,108.9 L209.2,107.9 L210.3,106.9 L211.6,106.2 L212.9,105.6 L214.3,105.3 L215.8,105.4 L217.2,105.7 L218.6,106.2 L220.0,106.8 L221.2,107.6 L222.3,108.6 L223.3,109.7 L224.2,110.9 L225.1,112.1 L226.0,113.3 L226.9,114.5 L227.8,115.7 L228.5,117.0 L229.3,118.3 L230.0,119.6 L230.7,120.9 L231.5,122.3 L232.2,123.6 L232.8,124.9 L233.5,126.3 L234.0,127.7 L234.6,129.1 L235.2,130.4 L235.8,131.8 L236.3,133.2 L236.8,134.6 L237.3,136.0 L237.8,137.5 L238.2,138.9 L238.7,140.3 L239.2,141.8 L239.6,143.2 L240.1,144.6 L240.6,146.0 L241.2,147.4 L241.7,148.8 L242.3,150.2 L242.8,151.6 L243.4,153.0 L243.9,154.4 L244.5,155.8 L245.1,157.2 L245.6,158.5 L246.2,159.9 L246.7,161.4 L247.2,162.8 L247.7,164.2 L248.2,165.6 L248.7,167.0 L249.2,168.4 L249.7,169.8 L250.2,171.3 L250.7,172.7 L251.2,174.1 L251.7,175.5 L252.1,176.9 L252.6,178.3 L253.1,179.8 L253.6,181.2 L254.0,182.6 L254.5,184.0 L255.0,185.5 L255.5,186.9 L256.0,188.3 L256.5,189.7 L257.0,191.1 L257.6,192.5 L258.1,193.9 L258.7,195.3 L259.2,196.7 L259.8,198.1 L260.4,199.4 L261.1,200.7 L262.0,202.0 L262.9,203.2 L263.8,204.4 L264.7,205.6 L265.6,206.8 L266.5,208.0 L267.4,209.1 L268.3,210.3 L269.4,211.4 L270.4,212.4 L271.5,213.5 L272.6,214.5 L273.7,215.5 L274.9,216.4 L276.0,217.5 L276.9,218.6 L277.7,219.9 L278.5,221.1 L279.3,222.4 L280.1,223.7 L280.9,224.9 L281.8,226.1 L282.8,227.2 L284.0,228.1 L285.3,228.9 L286.5,229.8 L287.7,230.6 L289.0,231.4 L290.3,232.2 L291.6,232.9 L292.9,233.6 L294.3,234.2 L295.6,234.8 L297.0,235.5 L298.4,236.1 L299.7,236.7 L301.1,237.4 L302.4,238.0 L303.8,238.6 L305.2,239.3 L306.5,239.9 L307.9,240.5 L309.3,241.1 L310.6,241.8 L312.0,242.4 L313.4,243.0 L314.7,243.6 L316.1,244.2 L317.5,244.8 L318.8,245.4 L320.2,246.1 L321.6,246.7 L322.9,247.3 L324.3,247.9 L325.7,248.5 L327.1,249.1 L328.4,249.7 L329.8,250.3 L331.2,250.9 L332.6,251.5 L333.9,252.1 L335.3,252.7 L336.7,253.3 L338.1,253.9 L339.4,254.5 L340.8,255.0 L342.2,255.6 L343.6,256.2 L345.0,256.8 L346.4,257.3 L347.8,257.9 L349.1,258.5 L350.5,259.0 L351.9,259.6 L353.3,260.2 L354.7,260.7 L356.1,261.3 L357.5,261.9 L358.9,262.4 L360.3,263.0 L361.7,263.5 L363.1,264.1 L364.4,264.7 L365.8,265.2 L367.2,265.8 L368.6,266.3 L370.0,266.9 L371.4,267.4 L372.8,268.0 L374.2,268.5 L375.6,269.1 L377.0,269.6 L378.4,270.1 L379.8,270.7 L381.2,271.2 L382.6,271.8 L384.0,272.3 L385.4,272.8 L386.8,273.3 L388.2,273.9 L389.6,274.4 L391.0,274.9 L392.4,275.4 L393.9,276.0 L395.3,276.5 L396.7,277.0 L398.1,277.5 L399.5,278.0 L400.9,278.5 L402.3,279.0 L403.7,279.5 L405.2,280.0 L406.6,280.5 L408.0,281.0 L409.4,281.4 L410.8,281.9 L412.3,282.4 L413.7,282.9 L415.1,283.4 L416.5,283.8 L418.0,284.3 L419.4,284.7 L420.8,285.2 L422.2,285.7 L423.7,286.1 L425.1,286.5 L426.5,287.0 L428.0,287.4 L429.4,287.9 L430.8,288.3 L432.3,288.7 L433.7,289.2 L435.1,289.6 L436.6,290.1 L438.0,290.5 L439.5,290.9 L440.9,291.3 L442.3,291.7 L443.8,292.2 L445.2,292.6 L446.7,293.0 L448.1,293.4 L449.6,293.8 L451.0,294.2 L452.5,294.6 L453.9,294.9 L455.4,295.3 L456.8,295.7 L458.3,296.1 L459.7,296.4 L461.2,296.8 L462.6,297.2 L464.1,297.5 L465.5,297.9 L467.0,298.2 L468.5,298.6 L469.9,298.9 L471.4,299.3 L472.8,299.6 L474.3,299.9 L475.8,300.3 L477.2,300.6 L478.7,300.9 L480.2,301.2 L481.6,301.5 L483.1,301.8 L484.6,302.1 L486.0,302.4 L487.5,302.7 L489.0,303.0 L490.4,303.3 L491.9,303.6 L493.4,303.9 L494.9,304.2 L496.3,304.4 L497.8,304.7 L499.3,305.0 L500.8,305.2 L502.2,305.5 L503.7,305.8 L505.2,306.0 L506.7,306.3 L508.2,306.5 L509.6,306.8 L511.1,307.0 L512.6,307.2 L514.1,307.5 L515.6,307.7 L517.1,307.9 L518.5,308.1 L520.0,308.4 L521.5,308.6 L523.0,308.8 L524.5,309.0 L526.0,309.2 L527.4,309.4 L528.9,309.6 L530.4,309.8 L531.9,310.0 L533.4,310.2 L534.9,310.4 L536.4,310.6 L537.9,310.8 L539.3,311.0 L540.8,311.1 L542.3,311.3 L543.8,311.5 L545.3,311.7 L546.8,311.8 L548.3,312.0 L549.8,312.2 L551.3,312.3 L552.8,312.5 L554.2,312.6 L555.7,312.8 L557.2,312.9 L558.7,313.1 L560.2,313.2 L561.7,313.4 L563.2,313.5 L564.7,313.7 L566.2,313.8 L567.7,313.9 L569.2,314.1 L570.7,314.2 L572.2,314.3 L573.7,314.5 L575.2,314.6 L576.7,314.7 L578.1,314.8 L579.6,315.0 L581.1,315.1 L582.6,315.2 L584.1,315.3 L585.6,315.4 L587.1,315.5 L588.6,315.6 L590.1,315.7 L591.6,315.8 L593.1,315.9 L594.6,316.0 L596.1,316.1 L597.6,316.2 L599.1,316.3 L600.6,316.4 L602.1,316.5 L603.6,316.6 L605.1,316.7 L606.6,316.8 L608.1,316.9 L609.6,317.0 L611.1,317.0 L612.6,317.1 L614.1,317.2 L615.6,317.3 L617.1,317.4 L618.6,317.4 L620.1,317.5 L621.6,317.6 L623.1,317.7 L624.6,317.7 L626.1,317.8 L627.6,317.9 L629.1,317.9 L630.5,318.0 L632.0,318.1 L633.5,318.1 L635.0,318.2 L636.5,318.2 L638.0,318.3 L639.5,318.4 L641.0,318.4 L642.5,318.5 L644.0,318.5 L645.5,318.6 L647.0,318.6 L648.5,318.7 L650.0,318.7 L651.5,318.8 L653.0,318.8 L654.5,318.9 L656.0,318.9 L657.5,319.0 L659.0,319.0 L660.5,319.1 L662.0,319.1 L663.5,319.1 L665.0,319.2 L666.5,319.2 L668.0,319.3 L669.5,319.3 L671.0,319.3 L672.5,319.4 L674.0,319.4 L675.5,319.4 L677.0,319.5 L678.5,319.5 L680.0,319.5 L681.5,319.6 L683.0,319.6 L684.5,319.6 L686.0,319.6 L687.5,319.7 L689.0,319.7 L690.5,319.7 L692.0,319.7 L693.5,319.8 L695.0,319.8 L696.5,319.8 L698.0,319.8 L699.5,319.8 L701.0,319.9 L702.5,319.9 L704.0,319.9 L705.5,319.9 L707.0,319.9 L708.5,320.0 L710.0,320.0 L711.5,320.0 L713.0,320.0 L714.5,320.0 L716.0,320.0 L717.5,320.0 L719.0,320.0 L720.5,320.0 L722.0,320.1 L723.5,320.1 L725.0,320.1 L726.5,320.1 L728.0,320.1 L729.5,320.1 L731.0,320.1 L732.5,320.1 L734.0,320.1 L735.5,320.1 L737.0,320.1 L738.5,320.1 L740.0,320.1 L741.5,320.1 L742.9,320.1 L744.0,320.1 L745.0,320.1" stroke="#f98e1d" stroke-width="2.3"/>
<path d="M45.3,291.4 L45.9,292.3 L46.7,293.4 L47.8,294.4 L49.1,295.2 L50.3,296.0 L51.6,296.8 L52.8,297.7 L53.9,298.7 L55.0,299.7 L56.2,300.7 L57.3,301.6 L58.6,302.3 L60.0,302.9 L61.4,303.3 L62.9,303.7 L64.3,304.2 L65.6,304.8 L67.0,305.5 L68.3,306.1 L69.7,306.7 L71.1,307.2 L72.6,307.5 L74.0,307.7 L75.5,308.0 L77.0,308.3 L78.5,308.6 L79.9,308.8 L81.4,309.0 L82.9,309.0 L84.4,308.8 L85.9,308.6 L87.3,308.3 L88.8,308.1 L90.3,307.8 L91.8,307.6 L93.2,307.3 L94.7,306.8 L96.0,306.2 L97.4,305.6 L98.7,304.9 L100.1,304.3 L101.4,303.6 L102.8,303.0 L104.1,302.3 L105.5,301.7 L106.8,301.0 L108.2,300.3 L109.4,299.5 L110.6,298.6 L111.7,297.6 L112.8,296.6 L113.9,295.6 L115.0,294.6 L116.1,293.6 L117.3,292.6 L118.4,291.6 L119.5,290.6 L120.6,289.6 L121.7,288.6 L122.8,287.6 L124.0,286.6 L125.1,285.6 L126.3,284.6 L127.4,283.7 L128.6,282.7 L129.7,281.8 L130.9,280.8 L132.1,279.9 L133.2,278.9 L134.3,278.0 L135.3,276.9 L136.2,275.7 L137.1,274.4 L137.9,273.2 L138.7,271.9 L139.6,270.7 L140.4,269.4 L141.2,268.1 L142.0,266.9 L142.8,265.6 L143.6,264.3 L144.3,263.0 L145.1,261.8 L145.9,260.5 L146.7,259.2 L147.5,257.9 L148.2,256.6 L149.0,255.4 L149.8,254.1 L150.5,252.8 L151.2,251.4 L151.9,250.1 L152.7,248.8 L153.4,247.5 L154.1,246.1 L154.7,244.8 L155.4,243.4 L155.9,242.1 L156.5,240.7 L157.1,239.3 L157.7,237.9 L158.3,236.6 L159.1,235.3 L159.9,234.0 L160.7,232.7 L161.4,231.4 L162.2,230.2 L163.0,228.9 L163.8,227.6 L164.4,226.3 L164.9,224.8 L165.4,223.4 L165.9,222.0 L166.3,220.6 L166.8,219.2 L167.3,217.7 L167.8,216.3 L168.2,214.9 L168.6,213.4 L169.0,212.0 L169.3,210.5 L169.7,209.1 L170.1,207.6 L170.4,206.2 L170.8,204.7 L171.2,203.3 L171.5,201.8 L171.9,200.3 L172.3,198.9 L172.6,197.4 L173.0,196.0 L173.4,194.5 L173.7,193.1 L174.1,191.6 L174.5,190.2 L174.8,188.7 L175.2,187.2 L175.6,185.8 L176.0,184.4 L176.4,182.9 L176.8,181.5 L177.2,180.0 L177.7,178.6 L178.1,177.2 L178.5,175.7 L178.8,174.3 L179.2,172.8 L179.5,171.3 L179.8,169.9 L180.2,168.4 L180.5,166.9 L180.8,165.5 L181.1,164.0 L181.4,162.5 L181.8,161.1 L182.1,159.6 L182.4,158.1 L182.7,156.7 L183.0,155.2 L183.3,153.7 L183.5,152.3 L183.8,150.8 L184.1,149.3 L184.4,147.8 L184.7,146.4 L185.0,144.9 L185.3,143.4 L185.6,142.0 L185.9,140.5 L186.2,139.0 L186.5,137.5 L186.8,136.1 L187.1,134.6 L187.4,133.1 L187.7,131.7 L188.0,130.2 L188.3,128.7 L188.6,127.3 L188.9,125.8 L189.2,124.3 L189.6,122.9 L189.9,121.4 L190.2,119.9 L190.6,118.5 L191.0,117.0 L191.3,115.6 L191.7,114.1 L192.1,112.7 L192.4,111.2 L192.8,109.8 L193.2,108.3 L193.5,106.8 L193.9,105.4 L194.3,103.9 L194.6,102.5 L195.0,101.0 L195.3,99.6 L195.7,98.1 L196.1,96.7 L196.4,95.2 L196.8,93.7 L197.1,92.3 L197.5,90.8 L197.8,89.4 L198.0,87.9 L198.3,86.4 L198.5,84.9 L198.8,83.4 L199.0,82.0 L199.3,80.5 L199.5,79.0 L199.7,77.5 L200.0,76.0 L200.2,74.6 L200.5,73.1 L200.7,71.6 L200.9,70.1 L201.2,68.6 L201.4,67.2 L201.7,65.7 L202.1,64.2 L202.4,62.8 L202.8,61.3 L203.1,59.9 L203.5,58.4 L203.9,57.0 L204.3,55.5 L204.7,54.1 L205.2,52.7 L205.6,51.2 L206.1,49.8 L206.5,48.3 L206.9,46.9 L207.3,45.5 L207.8,44.0 L208.2,42.6 L208.7,41.2 L209.3,39.8 L209.8,38.4 L210.4,37.0 L211.0,35.7 L211.8,34.4 L212.7,33.2 L213.6,32.0 L214.5,30.9 L215.6,29.8 L216.8,28.9 L218.0,28.1 L219.2,27.6 L220.3,28.0 L221.3,29.0 L222.2,30.2 L223.1,31.4 L223.9,32.7 L224.8,33.9 L225.6,35.1 L226.4,36.4 L227.3,37.6 L228.1,38.9 L228.9,40.1 L229.7,41.4 L230.4,42.7 L230.9,44.1 L231.4,45.5 L231.8,47.0 L232.2,48.4 L232.6,49.9 L233.0,51.3 L233.4,52.7 L233.9,54.2 L234.4,55.6 L234.8,57.0 L235.3,58.4 L235.8,59.9 L236.2,61.3 L236.7,62.7 L237.0,64.2 L237.4,65.6 L237.8,67.1 L238.1,68.6 L238.5,70.0 L238.8,71.5 L239.2,72.9 L239.6,74.4 L239.9,75.8 L240.3,77.3 L240.7,78.7 L241.1,80.2 L241.5,81.6 L242.0,83.1 L242.4,84.5 L242.8,85.9 L243.2,87.4 L243.6,88.8 L244.0,90.3 L244.4,91.7 L244.8,93.2 L245.1,94.6 L245.5,96.1 L245.9,97.5 L246.2,99.0 L246.6,100.5 L246.9,101.9 L247.3,103.4 L247.6,104.8 L247.9,106.3 L248.1,107.8 L248.4,109.3 L248.6,110.7 L248.8,112.2 L249.0,113.7 L249.3,115.2 L249.5,116.7 L249.7,118.2 L249.9,119.6 L250.2,121.1 L250.4,122.6 L250.7,124.1 L250.9,125.6 L251.1,127.0 L251.4,128.5 L251.6,130.0 L251.9,131.5 L252.1,133.0 L252.3,134.5 L252.5,135.9 L252.7,137.4 L252.9,138.9 L253.1,140.4 L253.3,141.9 L253.5,143.4 L253.7,144.9 L254.0,146.3 L254.4,147.8 L254.8,149.2 L255.1,150.7 L255.5,152.1 L255.9,153.6 L256.2,155.0 L256.6,156.5 L257.0,158.0 L257.3,159.4 L257.7,160.9 L258.1,162.3 L258.4,163.8 L258.8,165.2 L259.1,166.7 L259.5,168.1 L259.9,169.6 L260.2,171.1 L260.6,172.5 L261.0,174.0 L261.3,175.4 L261.7,176.9 L262.1,178.3 L262.5,179.8 L262.9,181.2 L263.4,182.6 L263.8,184.1 L264.2,185.5 L264.6,187.0 L265.0,188.4 L265.4,189.9 L265.8,191.3 L266.2,192.7 L266.6,194.2 L267.0,195.6 L267.4,197.1 L267.9,198.5 L268.3,200.0 L268.7,201.4 L269.1,202.8 L269.5,204.3 L269.9,205.7 L270.3,207.2 L270.7,208.6 L271.1,210.1 L271.5,211.5 L271.9,213.0 L272.3,214.4 L272.7,215.9 L273.1,217.3 L273.5,218.7 L273.9,220.2 L274.4,221.6 L274.8,223.0 L275.3,224.5 L275.7,225.9 L276.2,227.3 L276.7,228.7 L277.2,230.1 L277.8,231.5 L278.3,232.9 L278.8,234.4 L279.3,235.8 L279.9,237.2 L280.4,238.6 L280.9,240.0 L281.5,241.4 L282.0,242.8 L282.5,244.2 L283.0,245.6 L283.6,247.0 L284.3,248.3 L285.0,249.6 L285.7,250.9 L286.5,252.2 L287.2,253.5 L288.0,254.8 L288.7,256.1 L289.5,257.4 L290.3,258.6 L291.4,259.7 L292.5,260.7 L293.6,261.7 L294.7,262.7 L295.8,263.8 L296.9,264.8 L297.9,265.8 L299.0,266.9 L300.1,267.9 L301.2,268.9 L302.3,269.9 L303.5,270.9 L304.6,271.9 L305.8,272.8 L307.0,273.7 L308.3,274.5 L309.5,275.3 L310.8,276.2 L312.0,277.0 L313.3,277.8 L314.6,278.5 L315.9,279.3 L317.2,280.1 L318.5,280.8 L319.8,281.5 L321.1,282.2 L322.4,282.9 L323.8,283.6 L325.1,284.3 L326.4,285.0 L327.8,285.6 L329.2,286.3 L330.5,286.9 L331.9,287.5 L333.3,288.1 L334.6,288.7 L336.0,289.3 L337.4,289.9 L338.8,290.4 L340.2,291.0 L341.6,291.5 L343.0,292.0 L344.4,292.5 L345.8,293.0 L347.3,293.5 L348.7,294.0 L350.1,294.4 L351.5,294.9 L353.0,295.3 L354.4,295.8 L355.8,296.2 L357.3,296.6 L358.7,297.0 L360.2,297.4 L361.6,297.8 L363.1,298.2 L364.5,298.6 L366.0,298.9 L367.4,299.3 L368.9,299.7 L370.3,300.0 L371.8,300.3 L373.3,300.7 L374.7,301.0 L376.2,301.3 L377.7,301.6 L379.1,301.9 L380.6,302.2 L382.1,302.5 L383.5,302.8 L385.0,303.1 L386.5,303.4 L388.0,303.6 L389.4,303.9 L390.9,304.1 L392.4,304.4 L393.9,304.6 L395.4,304.9 L396.8,305.1 L398.3,305.4 L399.8,305.6 L401.3,305.8 L402.8,306.0 L404.3,306.2 L405.7,306.4 L407.2,306.6 L408.7,306.8 L410.2,307.0 L411.7,307.2 L413.2,307.4 L414.7,307.6 L416.2,307.8 L417.7,308.0 L419.1,308.1 L420.6,308.3 L422.1,308.5 L423.6,308.6 L425.1,308.8 L426.6,309.0 L428.1,309.1 L429.6,309.3 L431.1,309.4 L432.6,309.6 L434.1,309.7 L435.5,309.9 L437.0,310.0 L438.5,310.2 L440.0,310.3 L441.5,310.5 L443.0,310.6 L444.5,310.8 L446.0,310.9 L447.5,311.0 L449.0,311.2 L450.5,311.3 L452.0,311.4 L453.5,311.5 L455.0,311.7 L456.5,311.8 L458.0,311.9 L459.5,312.0 L460.9,312.1 L462.4,312.3 L463.9,312.4 L465.4,312.5 L466.9,312.6 L468.4,312.7 L469.9,312.8 L471.4,312.9 L472.9,313.0 L474.4,313.1 L475.9,313.2 L477.4,313.3 L478.9,313.4 L480.4,313.5 L481.9,313.6 L483.4,313.7 L484.9,313.8 L486.4,313.9 L487.9,313.9 L489.4,314.0 L490.9,314.1 L492.4,314.2 L493.9,314.3 L495.4,314.4 L496.9,314.5 L498.4,314.5 L499.9,314.6 L501.4,314.7 L502.9,314.8 L504.4,314.8 L505.9,314.9 L507.4,315.0 L508.9,315.1 L510.4,315.1 L511.9,315.2 L513.4,315.3 L514.8,315.3 L516.3,315.4 L517.8,315.5 L519.3,315.6 L520.8,315.6 L522.3,315.7 L523.8,315.7 L525.3,315.8 L526.8,315.9 L528.3,315.9 L529.8,316.0 L531.3,316.1 L532.8,316.1 L534.3,316.2 L535.8,316.2 L537.3,316.3 L538.8,316.4 L540.3,316.4 L541.8,316.5 L543.3,316.5 L544.8,316.6 L546.3,316.6 L547.8,316.7 L549.3,316.8 L550.8,316.8 L552.3,316.9 L553.8,316.9 L555.3,317.0 L556.8,317.0 L558.3,317.1 L559.8,317.1 L561.3,317.2 L562.8,317.2 L564.3,317.3 L565.8,317.3 L567.3,317.4 L568.8,317.4 L570.3,317.5 L571.8,317.5 L573.3,317.6 L574.8,317.6 L576.3,317.7 L577.8,317.7 L579.3,317.8 L580.8,317.8 L582.3,317.8 L583.8,317.9 L585.3,317.9 L586.8,318.0 L588.3,318.0 L589.8,318.1 L591.3,318.1 L592.8,318.2 L594.3,318.2 L595.8,318.3 L597.3,318.3 L598.8,318.3 L600.3,318.4 L601.8,318.4 L603.3,318.5 L604.8,318.5 L606.3,318.6 L607.8,318.6 L609.3,318.6 L610.8,318.7 L612.3,318.7 L613.8,318.8 L615.3,318.8 L616.8,318.8 L618.3,318.9 L619.8,318.9 L621.3,319.0 L622.8,319.0 L624.3,319.0 L625.8,319.1 L627.3,319.1 L628.8,319.2 L630.3,319.2 L631.8,319.2 L633.3,319.3 L634.8,319.3 L636.3,319.4 L637.8,319.4 L639.3,319.4 L640.8,319.5 L642.3,319.5 L643.8,319.6 L645.3,319.6 L646.8,319.6 L648.3,319.7 L649.8,319.7 L651.3,319.8 L652.8,319.8 L654.3,319.8 L655.8,319.9 L657.3,319.9 L658.8,319.9 L660.3,320.0 L661.8,320.0 L663.3,320.1 L664.8,320.1 L666.3,320.1 L667.8,320.2 L669.3,320.2 L670.8,320.2 L672.3,320.3 L673.8,320.3 L675.3,320.4 L676.8,320.4 L678.3,320.4 L679.8,320.5 L681.3,320.5 L682.8,320.5 L684.3,320.6 L685.8,320.6 L687.3,320.7 L688.8,320.7 L690.3,320.7 L691.8,320.8 L693.3,320.8 L694.8,320.8 L696.3,320.9 L697.8,320.9 L699.3,320.9 L700.8,321.0 L702.3,321.0 L703.8,321.1 L705.3,321.1 L706.8,321.1 L708.3,321.2 L709.8,321.2 L711.3,321.2 L712.8,321.3 L714.3,321.3 L715.8,321.3 L717.3,321.4 L718.8,321.4 L720.3,321.4 L721.8,321.5 L723.3,321.5 L724.8,321.5 L726.3,321.6 L727.8,321.6 L729.3,321.6 L730.8,321.7 L732.3,321.7 L733.8,321.8 L735.3,321.8 L736.8,321.8 L738.3,321.9 L739.8,321.9 L741.3,321.9 L742.7,322.0 L744.0,322.0 L745.0,322.0" stroke="#000" stroke-width="2.5"/>
</g>
<path d="M78.24,324.4 v-3.4 M78.24,16 v3.6 M113.38,324.4 v-3.4 M113.38,16 v3.6 M148.52,324.4 v-3.4 M148.52,16 v3.6 M183.66,324.4 v-3.4 M183.66,16 v3.6 M218.80,324.4 v-3.4 M218.80,16 v3.6 M253.94,324.4 v-3.4 M253.94,16 v3.6 M289.08,324.4 v-3.4 M289.08,16 v3.6 M324.22,324.4 v-3.4 M324.22,16 v3.6 M359.36,324.4 v-3.4 M359.36,16 v3.6 M394.50,324.4 v-3.4 M394.50,16 v3.6 M429.64,324.4 v-3.4 M429.64,16 v3.6 M464.78,324.4 v-3.4 M464.78,16 v3.6 M499.92,324.4 v-3.4 M499.92,16 v3.6 M535.06,324.4 v-3.4 M535.06,16 v3.6 M570.20,324.4 v-3.4 M570.20,16 v3.6 M605.34,324.4 v-3.4 M605.34,16 v3.6 M640.48,324.4 v-3.4 M640.48,16 v3.6 M675.62,324.4 v-3.4 M675.62,16 v3.6 M710.76,324.4 v-3.4 M710.76,16 v3.6" stroke="#333" stroke-width="2" fill="none"/>
<path d="M45,30.00 h8 M745,30.00 h-7.5 M45,42.26 h8 M745,42.26 h-7.5 M45,54.52 h8 M745,54.52 h-7.5 M45,66.78 h8 M745,66.78 h-7.5 M45,79.04 h8 M745,79.04 h-7.5 M45,91.30 h8 M745,91.30 h-7.5 M45,103.56 h8 M745,103.56 h-7.5 M45,115.82 h8 M745,115.82 h-7.5 M45,128.08 h8 M745,128.08 h-7.5 M45,140.34 h8 M745,140.34 h-7.5 M45,152.60 h8 M745,152.60 h-7.5 M45,164.86 h8 M745,164.86 h-7.5 M45,177.12 h8 M745,177.12 h-7.5 M45,189.38 h8 M745,189.38 h-7.5 M45,201.64 h8 M745,201.64 h-7.5 M45,213.90 h8 M745,213.90 h-7.5 M45,226.16 h8 M745,226.16 h-7.5 M45,238.42 h8 M745,238.42 h-7.5 M45,250.68 h8 M745,250.68 h-7.5 M45,262.94 h8 M745,262.94 h-7.5 M45,275.20 h8 M745,275.20 h-7.5 M45,287.46 h8 M745,287.46 h-7.5 M45,299.72 h8 M745,299.72 h-7.5 M45,311.98 h8 M745,311.98 h-7.5" stroke="#5a5a5a" stroke-width="1.5" fill="none"/>
<path d="M43.6,16 H746.3" stroke="#454545" stroke-width="2"/>
<path d="M44.8,15 V325" stroke="#454545" stroke-width="2.4"/>
<path d="M745.4,15 V325" stroke="#454545" stroke-width="1.8"/>
<path d="M43.6,324.4 H746.3" stroke="#4a4444" stroke-width="1.3"/>
<rect x="218" y="163" width="3" height="44" fill="#d64f2a"/>
<path d="M213.6,205.5 L225.2,205.5 L219.4,226.6 Z" fill="#d64f2a"/>
<rect x="358.5" y="168" width="3" height="43" fill="#2e75b6"/>
<path d="M354.3,169 L365.7,169 L360,148.2 Z" fill="#2e75b6"/>
<text x="37.00" y="326.00" font-size="14" text-anchor="end" fill="#231f20" textLength="18.25" lengthAdjust="spacingAndGlyphs">0.0</text>
<text x="37.00" y="267.55" font-size="14" text-anchor="end" fill="#231f20" textLength="18.25" lengthAdjust="spacingAndGlyphs">0.2</text>
<text x="37.00" y="206.05" font-size="14" text-anchor="end" fill="#231f20" textLength="18.25" lengthAdjust="spacingAndGlyphs">0.4</text>
<text x="37.00" y="144.75" font-size="14" text-anchor="end" fill="#231f20" textLength="18.25" lengthAdjust="spacingAndGlyphs">0.6</text>
<text x="37.00" y="83.35" font-size="14" text-anchor="end" fill="#231f20" textLength="18.25" lengthAdjust="spacingAndGlyphs">0.8</text>
<text x="37.00" y="23.60" font-size="14" text-anchor="end" fill="#231f20" textLength="18.25" lengthAdjust="spacingAndGlyphs">1.0</text>
<text x="48.30" y="343.80" font-size="14.1" text-anchor="middle" fill="#231f20" textLength="33.7" lengthAdjust="spacingAndGlyphs">300.0</text>
<text x="222.60" y="343.80" font-size="14.1" text-anchor="middle" fill="#231f20" textLength="33.7" lengthAdjust="spacingAndGlyphs">400.0</text>
<text x="396.90" y="343.80" font-size="14.1" text-anchor="middle" fill="#231f20" textLength="33.7" lengthAdjust="spacingAndGlyphs">500.0</text>
<text x="571.20" y="343.80" font-size="14.1" text-anchor="middle" fill="#231f20" textLength="33.7" lengthAdjust="spacingAndGlyphs">600.0</text>
<text x="745.50" y="343.80" font-size="14.1" text-anchor="middle" fill="#231f20" textLength="33.7" lengthAdjust="spacingAndGlyphs">700.0</text>
<text x="394.70" y="358.60" font-size="14.5" text-anchor="middle" fill="#231f20" textLength="19.4" lengthAdjust="spacingAndGlyphs">nm</text>
<text transform="translate(17,169.5) rotate(-90)" font-size="13" text-anchor="middle" fill="#231f20" textLength="27" lengthAdjust="spacingAndGlyphs">Abs.</text>
<text x="233.7" y="388" font-size="16" fill="#454545" textLength="315" lengthAdjust="spacingAndGlyphs">Absorption Spectra of Silver Nanoparticles</text>
<text x="531.8" y="41.7" font-size="13" fill="#231f20" textLength="112" lengthAdjust="spacingAndGlyphs">Black: after 0 min</text>
<text x="531.8" y="58.1" font-size="13" fill="#231f20" textLength="115" lengthAdjust="spacingAndGlyphs">Red: after 0.5 min</text>
<text x="531.8" y="74.5" font-size="13" fill="#231f20" textLength="107" lengthAdjust="spacingAndGlyphs">Blue: after 1 min</text>
<text x="531.8" y="90.9" font-size="13" fill="#231f20" textLength="118" lengthAdjust="spacingAndGlyphs">Green: after 2 min</text>
<text x="531.8" y="107.3" font-size="13" fill="#231f20" textLength="127" lengthAdjust="spacingAndGlyphs">Orange: after 5 min</text>
<text x="531.8" y="123.7" font-size="13" fill="#231f20" textLength="128" lengthAdjust="spacingAndGlyphs">Purple: after 10 min</text>
<line x1="830" y1="23.2" x2="1144" y2="23.2" stroke="#e0e0e0" stroke-width="1.8"/>
<line x1="830" y1="66.5" x2="1144" y2="66.5" stroke="#e0e0e0" stroke-width="1.8"/>
<line x1="830" y1="109.9" x2="1144" y2="109.9" stroke="#e0e0e0" stroke-width="1.8"/>
<line x1="830" y1="153.2" x2="1144" y2="153.2" stroke="#e0e0e0" stroke-width="1.8"/>
<line x1="830" y1="196.5" x2="1144" y2="196.5" stroke="#e0e0e0" stroke-width="1.8"/>
<line x1="830" y1="239.8" x2="1144" y2="239.8" stroke="#e0e0e0" stroke-width="1.8"/>
<line x1="830" y1="283.2" x2="1144" y2="283.2" stroke="#e0e0e0" stroke-width="1.8"/>
<line x1="880.9" y1="15" x2="880.9" y2="326" stroke="#efefef" stroke-width="1"/>
<line x1="933.3" y1="15" x2="933.3" y2="326" stroke="#efefef" stroke-width="1"/>
<line x1="985.8" y1="15" x2="985.8" y2="326" stroke="#efefef" stroke-width="1"/>
<line x1="1038.2" y1="15" x2="1038.2" y2="326" stroke="#efefef" stroke-width="1"/>
<line x1="1090.7" y1="15" x2="1090.7" y2="326" stroke="#efefef" stroke-width="1"/>
<line x1="829.3" y1="14.5" x2="829.3" y2="327.5" stroke="#bcbcbc" stroke-width="1.6"/>
<line x1="828.5" y1="326.9" x2="1144.5" y2="326.9" stroke="#bcbcbc" stroke-width="1.9"/>
<line x1="1143" y1="15" x2="1143" y2="326" stroke="#e6e6e6" stroke-width="1.2"/>
<line x1="828.8" y1="14.5" x2="1145" y2="14.5" stroke="#3a3a3a" stroke-width="1.4"/>
<line x1="1144.5" y1="14" x2="1144.5" y2="327.5" stroke="#3a3a3a" stroke-width="1.4"/>
<g fill="none" stroke-width="1.1">
<ellipse cx="829.3" cy="32" rx="1.9" ry="3.6" stroke="#b4b4b4"/>
<ellipse cx="834.5" cy="59" rx="1.9" ry="3.6" stroke="#b4b4b4"/>
<ellipse cx="839.8" cy="85" rx="1.9" ry="3.6" stroke="#b4b4b4"/>
<ellipse cx="845.0" cy="102" rx="1.9" ry="3.6" stroke="#b4b4b4"/>
<ellipse cx="850.2" cy="119.5" rx="1.9" ry="3.6" stroke="#b4b4b4"/>
<ellipse cx="855.5" cy="127.5" rx="1.9" ry="3.6" stroke="#b4b4b4"/>
<ellipse cx="860.7" cy="146.25" rx="1.9" ry="3.6" stroke="#b4b4b4"/>
<ellipse cx="866.0" cy="153.75" rx="1.9" ry="3.6" stroke="#b4b4b4"/>
<ellipse cx="871.2" cy="163.75" rx="1.9" ry="3.6" stroke="#b4b4b4"/>
<ellipse cx="876.4" cy="171.25" rx="1.9" ry="3.6" stroke="#b4b4b4"/>
<ellipse cx="881.7" cy="170" rx="1.9" ry="3.6" stroke="#b4b4b4"/>
<ellipse cx="886.9" cy="180" rx="1.9" ry="3.6" stroke="#b4b4b4"/>
<ellipse cx="892.1" cy="189.5" rx="1.9" ry="3.6" stroke="#b4b4b4"/>
<ellipse cx="897.4" cy="188.75" rx="1.9" ry="3.6" stroke="#b4b4b4"/>
<ellipse cx="902.6" cy="197" rx="1.9" ry="3.6" stroke="#b4b4b4"/>
<ellipse cx="907.8" cy="206.25" rx="1.9" ry="3.6" stroke="#b4b4b4"/>
<ellipse cx="913.1" cy="206.25" rx="1.9" ry="3.6" stroke="#b4b4b4"/>
<ellipse cx="918.3" cy="215" rx="1.9" ry="3.6" stroke="#b4b4b4"/>
<ellipse cx="923.5" cy="215" rx="1.9" ry="3.6" stroke="#b4b4b4"/>
<ellipse cx="928.8" cy="223" rx="1.9" ry="3.6" stroke="#b4b4b4"/>
<ellipse cx="934.0" cy="223" rx="1.9" ry="3.6" stroke="#b4b4b4"/>
<ellipse cx="939.3" cy="223" rx="1.9" ry="3.6" stroke="#b4b4b4"/>
<ellipse cx="944.5" cy="232" rx="1.9" ry="3.6" stroke="#b4b4b4"/>
<ellipse cx="949.7" cy="232" rx="1.9" ry="3.6" stroke="#b4b4b4"/>
<ellipse cx="955.0" cy="232" rx="1.9" ry="3.6" stroke="#b4b4b4"/>
<ellipse cx="960.2" cy="240.5" rx="1.9" ry="3.6" stroke="#b4b4b4"/>
<ellipse cx="965.4" cy="240.5" rx="1.9" ry="3.6" stroke="#b4b4b4"/>
<ellipse cx="970.7" cy="240.5" rx="1.9" ry="3.6" stroke="#b4b4b4"/>
<ellipse cx="975.9" cy="249.5" rx="1.9" ry="3.6" stroke="#b4b4b4"/>
<ellipse cx="981.1" cy="249.5" rx="1.9" ry="3.6" stroke="#b4b4b4"/>
<ellipse cx="986.4" cy="249.5" rx="1.9" ry="3.6" stroke="#b4b4b4"/>
<ellipse cx="991.6" cy="258" rx="1.9" ry="3.6" stroke="#b4b4b4"/>
<ellipse cx="996.9" cy="258" rx="1.9" ry="3.6" stroke="#b4b4b4"/>
<ellipse cx="1002.1" cy="258" rx="1.9" ry="3.6" stroke="#b4b4b4"/>
<ellipse cx="1007.3" cy="258" rx="1.9" ry="3.6" stroke="#b4b4b4"/>
<ellipse cx="1012.6" cy="267" rx="1.9" ry="3.6" stroke="#b4b4b4"/>
<ellipse cx="1017.8" cy="267" rx="1.9" ry="3.6" stroke="#b4b4b4"/>
<ellipse cx="1023.0" cy="267" rx="1.9" ry="3.6" stroke="#b4b4b4"/>
<ellipse cx="1028.3" cy="267" rx="1.9" ry="3.6" stroke="#b4b4b4"/>
<ellipse cx="1033.5" cy="267" rx="1.9" ry="3.6" stroke="#b4b4b4"/>
<ellipse cx="1038.7" cy="275.6" rx="1.9" ry="3.6" stroke="#b4b4b4"/>
<ellipse cx="1044.0" cy="275.6" rx="1.9" ry="3.6" stroke="#b4b4b4"/>
<ellipse cx="1049.2" cy="275.6" rx="1.9" ry="3.6" stroke="#b4b4b4"/>
<ellipse cx="1054.4" cy="275.6" rx="1.9" ry="3.6" stroke="#b4b4b4"/>
<ellipse cx="1059.7" cy="275.6" rx="1.9" ry="3.6" stroke="#b4b4b4"/>
<ellipse cx="1064.9" cy="284.1" rx="1.9" ry="3.6" stroke="#b4b4b4"/>
<ellipse cx="1070.2" cy="284.1" rx="1.9" ry="3.6" stroke="#b4b4b4"/>
<ellipse cx="1075.4" cy="284.1" rx="1.9" ry="3.6" stroke="#b4b4b4"/>
<ellipse cx="1080.6" cy="284.1" rx="1.9" ry="3.6" stroke="#b4b4b4"/>
<ellipse cx="1085.9" cy="284.1" rx="1.9" ry="3.6" stroke="#b4b4b4"/>
<ellipse cx="1091.1" cy="284.1" rx="1.9" ry="3.6" stroke="#b4b4b4"/>
<ellipse cx="1096.3" cy="292.9" rx="1.9" ry="3.6" stroke="#b4b4b4"/>
<ellipse cx="1101.6" cy="292.9" rx="1.9" ry="3.6" stroke="#b4b4b4"/>
<ellipse cx="1106.8" cy="292.9" rx="1.9" ry="3.6" stroke="#b4b4b4"/>
<ellipse cx="1112.0" cy="292.9" rx="1.9" ry="3.6" stroke="#b4b4b4"/>
<ellipse cx="1117.3" cy="292.9" rx="1.9" ry="3.6" stroke="#b4b4b4"/>
<ellipse cx="1122.5" cy="292.9" rx="1.9" ry="3.6" stroke="#b4b4b4"/>
<ellipse cx="1127.8" cy="292.9" rx="1.9" ry="3.6" stroke="#b4b4b4"/>
<ellipse cx="1133.0" cy="301.7" rx="1.9" ry="3.6" stroke="#b4b4b4"/>
<ellipse cx="1138.2" cy="301.7" rx="1.9" ry="3.6" stroke="#b4b4b4"/>
<ellipse cx="1143.5" cy="301.7" rx="1.9" ry="3.6" stroke="#b4b4b4"/>
<ellipse cx="829.3" cy="287" rx="1.4" ry="3.25" stroke="#4d87c9" stroke-width="0.9"/>
<ellipse cx="834.5" cy="250" rx="1.4" ry="3.25" stroke="#4d87c9" stroke-width="0.9"/>
<ellipse cx="839.8" cy="228" rx="1.4" ry="3.25" stroke="#4d87c9" stroke-width="0.9"/>
<ellipse cx="845.0" cy="210" rx="1.4" ry="3.25" stroke="#4d87c9" stroke-width="0.9"/>
<ellipse cx="850.2" cy="190.5" rx="1.4" ry="3.25" stroke="#4d87c9" stroke-width="0.9"/>
<ellipse cx="855.5" cy="170.75" rx="1.4" ry="3.25" stroke="#4d87c9" stroke-width="0.9"/>
<ellipse cx="860.7" cy="170.75" rx="1.4" ry="3.25" stroke="#4d87c9" stroke-width="0.9"/>
<ellipse cx="866.0" cy="152.3" rx="1.4" ry="3.25" stroke="#4d87c9" stroke-width="0.9"/>
<ellipse cx="871.2" cy="152.3" rx="1.4" ry="3.25" stroke="#4d87c9" stroke-width="0.9"/>
<ellipse cx="876.4" cy="131.75" rx="1.4" ry="3.25" stroke="#4d87c9" stroke-width="0.9"/>
<ellipse cx="881.7" cy="131.75" rx="1.4" ry="3.25" stroke="#4d87c9" stroke-width="0.9"/>
<ellipse cx="886.9" cy="131.75" rx="1.4" ry="3.25" stroke="#4d87c9" stroke-width="0.9"/>
<ellipse cx="892.1" cy="112.5" rx="1.4" ry="3.25" stroke="#4d87c9" stroke-width="0.9"/>
<ellipse cx="897.4" cy="112.5" rx="1.4" ry="3.25" stroke="#4d87c9" stroke-width="0.9"/>
<ellipse cx="902.6" cy="112.5" rx="1.4" ry="3.25" stroke="#4d87c9" stroke-width="0.9"/>
<ellipse cx="907.8" cy="112.5" rx="1.4" ry="3.25" stroke="#4d87c9" stroke-width="0.9"/>
<ellipse cx="913.1" cy="112.5" rx="1.4" ry="3.25" stroke="#4d87c9" stroke-width="0.9"/>
<ellipse cx="918.3" cy="92.5" rx="1.4" ry="3.25" stroke="#4d87c9" stroke-width="0.9"/>
<ellipse cx="923.5" cy="92.5" rx="1.4" ry="3.25" stroke="#4d87c9" stroke-width="0.9"/>
<ellipse cx="928.8" cy="92.5" rx="1.4" ry="3.25" stroke="#4d87c9" stroke-width="0.9"/>
<ellipse cx="934.0" cy="92.5" rx="1.4" ry="3.25" stroke="#4d87c9" stroke-width="0.9"/>
<ellipse cx="939.3" cy="92.5" rx="1.4" ry="3.25" stroke="#4d87c9" stroke-width="0.9"/>
<ellipse cx="944.5" cy="92.5" rx="1.4" ry="3.25" stroke="#4d87c9" stroke-width="0.9"/>
<ellipse cx="949.7" cy="73" rx="1.4" ry="3.25" stroke="#4d87c9" stroke-width="0.9"/>
<ellipse cx="955.0" cy="73" rx="1.4" ry="3.25" stroke="#4d87c9" stroke-width="0.9"/>
<ellipse cx="960.2" cy="73" rx="1.4" ry="3.25" stroke="#4d87c9" stroke-width="0.9"/>
<ellipse cx="965.4" cy="73" rx="1.4" ry="3.25" stroke="#4d87c9" stroke-width="0.9"/>
<ellipse cx="970.7" cy="73" rx="1.4" ry="3.25" stroke="#4d87c9" stroke-width="0.9"/>
<ellipse cx="975.9" cy="73" rx="1.4" ry="3.25" stroke="#4d87c9" stroke-width="0.9"/>
<ellipse cx="981.1" cy="73" rx="1.4" ry="3.25" stroke="#4d87c9" stroke-width="0.9"/>
<ellipse cx="986.4" cy="73" rx="1.4" ry="3.25" stroke="#4d87c9" stroke-width="0.9"/>
<ellipse cx="991.6" cy="73" rx="1.4" ry="3.25" stroke="#4d87c9" stroke-width="0.9"/>
<ellipse cx="996.9" cy="53.75" rx="1.4" ry="3.25" stroke="#4d87c9" stroke-width="0.9"/>
<ellipse cx="1002.1" cy="53.75" rx="1.4" ry="3.25" stroke="#4d87c9" stroke-width="0.9"/>
<ellipse cx="1007.3" cy="53.75" rx="1.4" ry="3.25" stroke="#4d87c9" stroke-width="0.9"/>
<ellipse cx="1012.6" cy="53.75" rx="1.4" ry="3.25" stroke="#4d87c9" stroke-width="0.9"/>
<ellipse cx="1017.8" cy="53.75" rx="1.4" ry="3.25" stroke="#4d87c9" stroke-width="0.9"/>
<ellipse cx="1023.0" cy="53.75" rx="1.4" ry="3.25" stroke="#4d87c9" stroke-width="0.9"/>
<ellipse cx="1028.3" cy="53.75" rx="1.4" ry="3.25" stroke="#4d87c9" stroke-width="0.9"/>
<ellipse cx="1033.5" cy="53.75" rx="1.4" ry="3.25" stroke="#4d87c9" stroke-width="0.9"/>
<ellipse cx="1038.7" cy="53.75" rx="1.4" ry="3.25" stroke="#4d87c9" stroke-width="0.9"/>
<ellipse cx="1044.0" cy="53.75" rx="1.4" ry="3.25" stroke="#4d87c9" stroke-width="0.9"/>
<ellipse cx="1049.2" cy="53.75" rx="1.4" ry="3.25" stroke="#4d87c9" stroke-width="0.9"/>
<ellipse cx="1054.4" cy="53.75" rx="1.4" ry="3.25" stroke="#4d87c9" stroke-width="0.9"/>
<ellipse cx="1059.7" cy="53.75" rx="1.4" ry="3.25" stroke="#4d87c9" stroke-width="0.9"/>
<ellipse cx="1064.9" cy="53.75" rx="1.4" ry="3.25" stroke="#4d87c9" stroke-width="0.9"/>
<ellipse cx="1070.2" cy="53.75" rx="1.4" ry="3.25" stroke="#4d87c9" stroke-width="0.9"/>
<ellipse cx="1075.4" cy="53.75" rx="1.4" ry="3.25" stroke="#4d87c9" stroke-width="0.9"/>
<ellipse cx="1080.6" cy="34" rx="1.4" ry="3.25" stroke="#4d87c9" stroke-width="0.9"/>
<ellipse cx="1085.9" cy="34" rx="1.4" ry="3.25" stroke="#4d87c9" stroke-width="0.9"/>
<ellipse cx="1091.1" cy="34" rx="1.4" ry="3.25" stroke="#4d87c9" stroke-width="0.9"/>
<ellipse cx="1096.3" cy="34" rx="1.4" ry="3.25" stroke="#4d87c9" stroke-width="0.9"/>
<ellipse cx="1101.6" cy="34" rx="1.4" ry="3.25" stroke="#4d87c9" stroke-width="0.9"/>
<ellipse cx="1106.8" cy="34" rx="1.4" ry="3.25" stroke="#4d87c9" stroke-width="0.9"/>
<ellipse cx="1112.0" cy="34" rx="1.4" ry="3.25" stroke="#4d87c9" stroke-width="0.9"/>
<ellipse cx="1117.3" cy="34" rx="1.4" ry="3.25" stroke="#4d87c9" stroke-width="0.9"/>
<ellipse cx="1122.5" cy="34" rx="1.4" ry="3.25" stroke="#4d87c9" stroke-width="0.9"/>
<ellipse cx="1127.8" cy="34" rx="1.4" ry="3.25" stroke="#4d87c9" stroke-width="0.9"/>
<ellipse cx="1133.0" cy="34" rx="1.4" ry="3.25" stroke="#4d87c9" stroke-width="0.9"/>
<ellipse cx="1138.2" cy="34" rx="1.4" ry="3.25" stroke="#4d87c9" stroke-width="0.9"/>
<ellipse cx="1143.5" cy="34" rx="1.4" ry="3.25" stroke="#4d87c9" stroke-width="0.9"/>
</g>
<g fill="none">
<path d="M829.3,36.2 L830.1,40.4 L830.9,44.6 L831.7,48.6 L832.5,52.5 L833.2,56.3 L834.0,60.1 L834.8,63.7 L835.6,67.2 L836.4,70.6 L837.2,73.9 L838.0,77.1 L838.8,80.3 L839.6,83.4 L840.3,86.3 L841.1,89.3 L841.9,92.1 L842.7,94.8 L843.5,97.5 L844.3,100.2 L845.1,102.7 L845.9,105.2 L846.7,107.7 L847.4,110.0 L848.2,112.3 L849.0,114.6 L849.8,116.8 L850.6,119.0 L851.4,121.1 L852.2,123.1 L853.0,125.1 L853.8,127.1 L854.5,129.0 L855.3,130.9 L856.1,132.7 L856.9,134.5 L857.7,136.3 L858.5,138.0 L859.3,139.7 L860.1,141.3 L860.8,142.9 L861.6,144.5 L862.4,146.1 L863.2,147.6 L864.0,149.1 L864.8,150.5 L865.6,152.0 L866.4,153.4 L867.2,154.7 L867.9,156.1 L868.7,157.4 L869.5,158.7 L870.3,160.0 L871.1,161.2 L871.9,162.4 L872.7,163.6 L873.5,164.8 L874.3,166.0 L875.0,167.1 L875.8,168.3 L876.6,169.4 L877.4,170.5 L878.2,171.5 L879.0,172.6 L879.8,173.6 L880.6,174.7 L881.4,175.7 L882.1,176.7 L882.9,177.6 L883.7,178.6 L884.5,179.6 L885.3,180.5 L886.1,181.4 L886.9,182.3 L887.7,183.2 L888.5,184.1 L889.2,185.0 L890.0,185.8 L890.8,186.7 L891.6,187.5 L892.4,188.4 L893.2,189.2 L894.0,190.0 L894.8,190.8 L895.6,191.6 L896.3,192.4 L897.1,193.2 L897.9,193.9 L898.7,194.7 L899.5,195.4 L900.3,196.2 L901.1,196.9 L901.9,197.6 L902.7,198.3 L903.4,199.1 L904.2,199.8 L905.0,200.5 L905.8,201.1 L906.6,201.8 L907.4,202.5 L908.2,203.2 L909.0,203.8 L909.7,204.5 L910.5,205.1 L911.3,205.8 L912.1,206.4 L912.9,207.1 L913.7,207.7 L914.5,208.3 L915.3,208.9 L916.1,209.6 L916.8,210.2 L917.6,210.8 L918.4,211.4 L919.2,212.0 L920.0,212.6 L920.8,213.1 L921.6,213.7 L922.4,214.3 L923.2,214.9 L923.9,215.4 L924.7,216.0 L925.5,216.6 L926.3,217.1 L927.1,217.7 L927.9,218.2 L928.7,218.8 L929.5,219.3 L930.3,219.8 L931.0,220.4 L931.8,220.9 L932.6,221.4 L933.4,222.0 L934.2,222.5 L935.0,223.0 L935.8,223.5 L936.6,224.0 L937.4,224.5 L938.1,225.0 L938.9,225.5 L939.7,226.0 L940.5,226.5 L941.3,227.0 L942.1,227.5 L942.9,228.0 L943.7,228.5 L944.5,229.0 L945.2,229.5 L946.0,229.9 L946.8,230.4 L947.6,230.9 L948.4,231.3 L949.2,231.8 L950.0,232.3 L950.8,232.7 L951.6,233.2 L952.3,233.7 L953.1,234.1 L953.9,234.6 L954.7,235.0 L955.5,235.5 L956.3,235.9 L957.1,236.3 L957.9,236.8 L958.7,237.2 L959.4,237.7 L960.2,238.1 L961.0,238.5 L961.8,239.0 L962.6,239.4 L963.4,239.8 L964.2,240.2 L965.0,240.7 L965.7,241.1 L966.5,241.5 L967.3,241.9 L968.1,242.3 L968.9,242.7 L969.7,243.1 L970.5,243.6 L971.3,244.0 L972.1,244.4 L972.8,244.8 L973.6,245.2 L974.4,245.6 L975.2,246.0 L976.0,246.3 L976.8,246.7 L977.6,247.1 L978.4,247.5 L979.2,247.9 L979.9,248.3 L980.7,248.7 L981.5,249.1 L982.3,249.4 L983.1,249.8 L983.9,250.2 L984.7,250.6 L985.5,250.9 L986.3,251.3 L987.0,251.7 L987.8,252.1 L988.6,252.4 L989.4,252.8 L990.2,253.2 L991.0,253.5 L991.8,253.9 L992.6,254.2 L993.4,254.6 L994.1,254.9 L994.9,255.3 L995.7,255.7 L996.5,256.0 L997.3,256.4 L998.1,256.7 L998.9,257.0 L999.7,257.4 L1000.5,257.7 L1001.2,258.1 L1002.0,258.4 L1002.8,258.8 L1003.6,259.1 L1004.4,259.4 L1005.2,259.8 L1006.0,260.1 L1006.8,260.4 L1007.6,260.8 L1008.3,261.1 L1009.1,261.4 L1009.9,261.7 L1010.7,262.1 L1011.5,262.4 L1012.3,262.7 L1013.1,263.0 L1013.9,263.4 L1014.6,263.7 L1015.4,264.0 L1016.2,264.3 L1017.0,264.6 L1017.8,264.9 L1018.6,265.2 L1019.4,265.6 L1020.2,265.9 L1021.0,266.2 L1021.7,266.5 L1022.5,266.8 L1023.3,267.1 L1024.1,267.4 L1024.9,267.7 L1025.7,268.0 L1026.5,268.3 L1027.3,268.6 L1028.1,268.9 L1028.8,269.2 L1029.6,269.5 L1030.4,269.8 L1031.2,270.1 L1032.0,270.3 L1032.8,270.6 L1033.6,270.9 L1034.4,271.2 L1035.2,271.5 L1035.9,271.8 L1036.7,272.1 L1037.5,272.3 L1038.3,272.6 L1039.1,272.9 L1039.9,273.2 L1040.7,273.4 L1041.5,273.7 L1042.3,274.0 L1043.0,274.3 L1043.8,274.5 L1044.6,274.8 L1045.4,275.1 L1046.2,275.4 L1047.0,275.6 L1047.8,275.9 L1048.6,276.2 L1049.4,276.4 L1050.1,276.7 L1050.9,276.9 L1051.7,277.2 L1052.5,277.5 L1053.3,277.7 L1054.1,278.0 L1054.9,278.2 L1055.7,278.5 L1056.5,278.7 L1057.2,279.0 L1058.0,279.3 L1058.8,279.5 L1059.6,279.8 L1060.4,280.0 L1061.2,280.3 L1062.0,280.5 L1062.8,280.7 L1063.6,281.0 L1064.3,281.2 L1065.1,281.5 L1065.9,281.7 L1066.7,282.0 L1067.5,282.2 L1068.3,282.4 L1069.1,282.7 L1069.9,282.9 L1070.6,283.2 L1071.4,283.4 L1072.2,283.6 L1073.0,283.9 L1073.8,284.1 L1074.6,284.3 L1075.4,284.5 L1076.2,284.8 L1077.0,285.0 L1077.7,285.2 L1078.5,285.5 L1079.3,285.7 L1080.1,285.9 L1080.9,286.1 L1081.7,286.4 L1082.5,286.6 L1083.3,286.8 L1084.1,287.0 L1084.8,287.2 L1085.6,287.5 L1086.4,287.7 L1087.2,287.9 L1088.0,288.1 L1088.8,288.3 L1089.6,288.5 L1090.4,288.7 L1091.2,289.0 L1091.9,289.2 L1092.7,289.4 L1093.5,289.6 L1094.3,289.8 L1095.1,290.0 L1095.9,290.2 L1096.7,290.4 L1097.5,290.6 L1098.3,290.8 L1099.0,291.0 L1099.8,291.2 L1100.6,291.4 L1101.4,291.6 L1102.2,291.8 L1103.0,292.0 L1103.8,292.2 L1104.6,292.4 L1105.4,292.6 L1106.1,292.8 L1106.9,293.0 L1107.7,293.2 L1108.5,293.4 L1109.3,293.6 L1110.1,293.8 L1110.9,294.0 L1111.7,294.2 L1112.5,294.4 L1113.2,294.5 L1114.0,294.7 L1114.8,294.9 L1115.6,295.1 L1116.4,295.3 L1117.2,295.5 L1118.0,295.7 L1118.8,295.8 L1119.5,296.0 L1120.3,296.2 L1121.1,296.4 L1121.9,296.6 L1122.7,296.7 L1123.5,296.9 L1124.3,297.1 L1125.1,297.3 L1125.9,297.5 L1126.6,297.6 L1127.4,297.8 L1128.2,298.0 L1129.0,298.2 L1129.8,298.3 L1130.6,298.5 L1131.4,298.7 L1132.2,298.8 L1133.0,299.0 L1133.7,299.2 L1134.5,299.4 L1135.3,299.5 L1136.1,299.7 L1136.9,299.9 L1137.7,300.0 L1138.5,300.2 L1139.3,300.4 L1140.1,300.5 L1140.8,300.7 L1141.6,300.8 L1142.4,301.0 L1143.2,301.2 L1144.0,301.3" stroke="#e8141e" stroke-width="1.3" stroke-dasharray="1.4,1.4"/>
<path d="M829.3,273.2 L830.1,268.9 L830.9,264.6 L831.7,260.5 L832.5,256.4 L833.2,252.5 L834.0,248.7 L834.8,245.0 L835.6,241.4 L836.4,237.8 L837.2,234.4 L838.0,231.1 L838.8,227.8 L839.6,224.6 L840.3,221.5 L841.1,218.5 L841.9,215.6 L842.7,212.7 L843.5,209.9 L844.3,207.2 L845.1,204.5 L845.9,202.0 L846.7,199.4 L847.4,197.0 L848.2,194.6 L849.0,192.2 L849.8,190.0 L850.6,187.7 L851.4,185.6 L852.2,183.4 L853.0,181.4 L853.8,179.3 L854.5,177.4 L855.3,175.4 L856.1,173.6 L856.9,171.7 L857.7,169.9 L858.5,168.2 L859.3,166.4 L860.1,164.8 L860.8,163.1 L861.6,161.5 L862.4,160.0 L863.2,158.4 L864.0,156.9 L864.8,155.5 L865.6,154.0 L866.4,152.6 L867.2,151.3 L867.9,149.9 L868.7,148.6 L869.5,147.3 L870.3,146.0 L871.1,144.8 L871.9,143.6 L872.7,142.4 L873.5,141.3 L874.3,140.1 L875.0,139.0 L875.8,137.9 L876.6,136.8 L877.4,135.8 L878.2,134.7 L879.0,133.7 L879.8,132.7 L880.6,131.8 L881.4,130.8 L882.1,129.9 L882.9,128.9 L883.7,128.0 L884.5,127.1 L885.3,126.3 L886.1,125.4 L886.9,124.6 L887.7,123.7 L888.5,122.9 L889.2,122.1 L890.0,121.3 L890.8,120.5 L891.6,119.8 L892.4,119.0 L893.2,118.3 L894.0,117.6 L894.8,116.8 L895.6,116.1 L896.3,115.4 L897.1,114.7 L897.9,114.1 L898.7,113.4 L899.5,112.7 L900.3,112.1 L901.1,111.5 L901.9,110.8 L902.7,110.2 L903.4,109.6 L904.2,109.0 L905.0,108.4 L905.8,107.8 L906.6,107.2 L907.4,106.6 L908.2,106.1 L909.0,105.5 L909.7,105.0 L910.5,104.4 L911.3,103.9 L912.1,103.3 L912.9,102.8 L913.7,102.3 L914.5,101.8 L915.3,101.3 L916.1,100.8 L916.8,100.3 L917.6,99.8 L918.4,99.3 L919.2,98.8 L920.0,98.3 L920.8,97.8 L921.6,97.4 L922.4,96.9 L923.2,96.4 L923.9,96.0 L924.7,95.5 L925.5,95.1 L926.3,94.6 L927.1,94.2 L927.9,93.8 L928.7,93.3 L929.5,92.9 L930.3,92.5 L931.0,92.1 L931.8,91.7 L932.6,91.2 L933.4,90.8 L934.2,90.4 L935.0,90.0 L935.8,89.6 L936.6,89.2 L937.4,88.8 L938.1,88.4 L938.9,88.1 L939.7,87.7 L940.5,87.3 L941.3,86.9 L942.1,86.5 L942.9,86.2 L943.7,85.8 L944.5,85.4 L945.2,85.0 L946.0,84.7 L946.8,84.3 L947.6,84.0 L948.4,83.6 L949.2,83.2 L950.0,82.9 L950.8,82.5 L951.6,82.2 L952.3,81.9 L953.1,81.5 L953.9,81.2 L954.7,80.8 L955.5,80.5 L956.3,80.2 L957.1,79.8 L957.9,79.5 L958.7,79.2 L959.4,78.8 L960.2,78.5 L961.0,78.2 L961.8,77.9 L962.6,77.5 L963.4,77.2 L964.2,76.9 L965.0,76.6 L965.7,76.3 L966.5,76.0 L967.3,75.6 L968.1,75.3 L968.9,75.0 L969.7,74.7 L970.5,74.4 L971.3,74.1 L972.1,73.8 L972.8,73.5 L973.6,73.2 L974.4,72.9 L975.2,72.6 L976.0,72.3 L976.8,72.0 L977.6,71.7 L978.4,71.4 L979.2,71.2 L979.9,70.9 L980.7,70.6 L981.5,70.3 L982.3,70.0 L983.1,69.7 L983.9,69.5 L984.7,69.2 L985.5,68.9 L986.3,68.6 L987.0,68.3 L987.8,68.1 L988.6,67.8 L989.4,67.5 L990.2,67.2 L991.0,67.0 L991.8,66.7 L992.6,66.4 L993.4,66.2 L994.1,65.9 L994.9,65.6 L995.7,65.4 L996.5,65.1 L997.3,64.8 L998.1,64.6 L998.9,64.3 L999.7,64.1 L1000.5,63.8 L1001.2,63.6 L1002.0,63.3 L1002.8,63.0 L1003.6,62.8 L1004.4,62.5 L1005.2,62.3 L1006.0,62.0 L1006.8,61.8 L1007.6,61.5 L1008.3,61.3 L1009.1,61.0 L1009.9,60.8 L1010.7,60.5 L1011.5,60.3 L1012.3,60.1 L1013.1,59.8 L1013.9,59.6 L1014.6,59.3 L1015.4,59.1 L1016.2,58.9 L1017.0,58.6 L1017.8,58.4 L1018.6,58.1 L1019.4,57.9 L1020.2,57.7 L1021.0,57.4 L1021.7,57.2 L1022.5,57.0 L1023.3,56.8 L1024.1,56.5 L1024.9,56.3 L1025.7,56.1 L1026.5,55.8 L1027.3,55.6 L1028.1,55.4 L1028.8,55.2 L1029.6,54.9 L1030.4,54.7 L1031.2,54.5 L1032.0,54.3 L1032.8,54.0 L1033.6,53.8 L1034.4,53.6 L1035.2,53.4 L1035.9,53.2 L1036.7,53.0 L1037.5,52.7 L1038.3,52.5 L1039.1,52.3 L1039.9,52.1 L1040.7,51.9 L1041.5,51.7 L1042.3,51.5 L1043.0,51.2 L1043.8,51.0 L1044.6,50.8 L1045.4,50.6 L1046.2,50.4 L1047.0,50.2 L1047.8,50.0 L1048.6,49.8 L1049.4,49.6 L1050.1,49.4 L1050.9,49.2 L1051.7,49.0 L1052.5,48.8 L1053.3,48.6 L1054.1,48.4 L1054.9,48.2 L1055.7,48.0 L1056.5,47.8 L1057.2,47.6 L1058.0,47.4 L1058.8,47.2 L1059.6,47.0 L1060.4,46.8 L1061.2,46.6 L1062.0,46.4 L1062.8,46.2 L1063.6,46.0 L1064.3,45.8 L1065.1,45.6 L1065.9,45.5 L1066.7,45.3 L1067.5,45.1 L1068.3,44.9 L1069.1,44.7 L1069.9,44.5 L1070.6,44.3 L1071.4,44.1 L1072.2,44.0 L1073.0,43.8 L1073.8,43.6 L1074.6,43.4 L1075.4,43.2 L1076.2,43.0 L1077.0,42.9 L1077.7,42.7 L1078.5,42.5 L1079.3,42.3 L1080.1,42.1 L1080.9,42.0 L1081.7,41.8 L1082.5,41.6 L1083.3,41.4 L1084.1,41.3 L1084.8,41.1 L1085.6,40.9 L1086.4,40.7 L1087.2,40.6 L1088.0,40.4 L1088.8,40.2 L1089.6,40.0 L1090.4,39.9 L1091.2,39.7 L1091.9,39.5 L1092.7,39.4 L1093.5,39.2 L1094.3,39.0 L1095.1,38.9 L1095.9,38.7 L1096.7,38.5 L1097.5,38.4 L1098.3,38.2 L1099.0,38.0 L1099.8,37.9 L1100.6,37.7 L1101.4,37.5 L1102.2,37.4 L1103.0,37.2 L1103.8,37.1 L1104.6,36.9 L1105.4,36.7 L1106.1,36.6 L1106.9,36.4 L1107.7,36.3 L1108.5,36.1 L1109.3,35.9 L1110.1,35.8 L1110.9,35.6 L1111.7,35.5 L1112.5,35.3 L1113.2,35.2 L1114.0,35.0 L1114.8,34.9 L1115.6,34.7 L1116.4,34.6 L1117.2,34.4 L1118.0,34.2 L1118.8,34.1 L1119.5,33.9 L1120.3,33.8 L1121.1,33.6 L1121.9,33.5 L1122.7,33.4 L1123.5,33.2 L1124.3,33.1 L1125.1,32.9 L1125.9,32.8 L1126.6,32.6 L1127.4,32.5 L1128.2,32.3 L1129.0,32.2 L1129.8,32.0 L1130.6,31.9 L1131.4,31.8 L1132.2,31.6 L1133.0,31.5 L1133.7,31.3 L1134.5,31.2 L1135.3,31.0 L1136.1,30.9 L1136.9,30.8 L1137.7,30.6 L1138.5,30.5 L1139.3,30.4 L1140.1,30.2 L1140.8,30.1 L1141.6,29.9 L1142.4,29.8 L1143.2,29.7 L1144.0,29.5" stroke="#111" stroke-width="1.3" stroke-dasharray="1.4,1.4"/>
</g>
<text x="825.40" y="29.75" font-size="14" text-anchor="end" fill="#231f20" textLength="25.6" lengthAdjust="spacingAndGlyphs">0.97</text>
<text x="825.40" y="79.98" font-size="14" text-anchor="end" fill="#231f20" textLength="25.6" lengthAdjust="spacingAndGlyphs">0.92</text>
<text x="825.40" y="130.21" font-size="14" text-anchor="end" fill="#231f20" textLength="25.6" lengthAdjust="spacingAndGlyphs">0.87</text>
<text x="825.40" y="180.44" font-size="14" text-anchor="end" fill="#231f20" textLength="25.6" lengthAdjust="spacingAndGlyphs">0.77</text>
<text x="825.40" y="230.67" font-size="14" text-anchor="end" fill="#231f20" textLength="25.6" lengthAdjust="spacingAndGlyphs">0.72</text>
<text x="825.40" y="280.90" font-size="14" text-anchor="end" fill="#231f20" textLength="25.6" lengthAdjust="spacingAndGlyphs">0.67</text>
<text x="825.40" y="331.13" font-size="14" text-anchor="end" fill="#231f20" textLength="25.6" lengthAdjust="spacingAndGlyphs">0.62</text>
<text x="1149.00" y="20.75" font-size="14.5" fill="#231f20" textLength="26.25" lengthAdjust="spacingAndGlyphs">0.23</text>
<text x="1149.00" y="59.75" font-size="14.5" fill="#231f20" textLength="26.25" lengthAdjust="spacingAndGlyphs">0.21</text>
<text x="1149.00" y="98.75" font-size="14.5" fill="#231f20" textLength="26.25" lengthAdjust="spacingAndGlyphs">0.19</text>
<text x="1149.00" y="137.75" font-size="14.5" fill="#231f20" textLength="26.25" lengthAdjust="spacingAndGlyphs">0.17</text>
<text x="1149.00" y="176.75" font-size="14.5" fill="#231f20" textLength="26.25" lengthAdjust="spacingAndGlyphs">0.15</text>
<text x="1149.00" y="215.75" font-size="14.5" fill="#231f20" textLength="26.25" lengthAdjust="spacingAndGlyphs">0.13</text>
<text x="1149.00" y="254.75" font-size="14.5" fill="#231f20" textLength="26.25" lengthAdjust="spacingAndGlyphs">0.11</text>
<text x="1149.00" y="293.75" font-size="14.5" fill="#231f20" textLength="26.25" lengthAdjust="spacingAndGlyphs">0.09</text>
<text x="1149.00" y="332.75" font-size="14.5" fill="#231f20" textLength="26.25" lengthAdjust="spacingAndGlyphs">0.07</text>
<text x="828.30" y="342.75" font-size="14" text-anchor="middle" fill="#231f20" textLength="7.2" lengthAdjust="spacingAndGlyphs">0</text>
<text x="881.50" y="342.75" font-size="14" text-anchor="middle" fill="#231f20" textLength="21.5" lengthAdjust="spacingAndGlyphs">100</text>
<text x="933.60" y="342.75" font-size="14" text-anchor="middle" fill="#231f20" textLength="21.5" lengthAdjust="spacingAndGlyphs">200</text>
<text x="985.80" y="342.75" font-size="14" text-anchor="middle" fill="#231f20" textLength="21.5" lengthAdjust="spacingAndGlyphs">300</text>
<text x="1037.80" y="342.75" font-size="14" text-anchor="middle" fill="#231f20" textLength="21.5" lengthAdjust="spacingAndGlyphs">400</text>
<text x="1090.00" y="342.75" font-size="14" text-anchor="middle" fill="#231f20" textLength="21.5" lengthAdjust="spacingAndGlyphs">500</text>
<text x="1134.40" y="342.75" font-size="14" text-anchor="middle" fill="#231f20" textLength="21.5" lengthAdjust="spacingAndGlyphs">600</text>
<text x="955.10" y="364.60" font-size="14.6" fill="#231f20" textLength="62.8" lengthAdjust="spacingAndGlyphs">Time (sec)</text>
<text x="827.30" y="389.60" font-size="16.6" fill="#454545" textLength="357.9" lengthAdjust="spacingAndGlyphs">Temporal Changes of Absorbance at 400 and 480 nm</text>
<text transform="translate(790.5,169.1) rotate(-90)" font-size="14.2" text-anchor="middle" fill="#d4502a" textLength="180.7" lengthAdjust="spacingAndGlyphs">Absorbance at 400 nm (Abs)</text>
<text transform="translate(1193.8,169.5) rotate(-90)" font-size="14.2" text-anchor="middle" fill="#3a78b9" textLength="180" lengthAdjust="spacingAndGlyphs">Absorbance at 480 nm (Abs)</text>
<text x="1025.60" y="79.90" font-size="14" fill="#3a78b9" textLength="46.5" lengthAdjust="spacingAndGlyphs">480 nm</text>
<text x="1025.60" y="254.90" font-size="14" fill="#d4502a" textLength="46.5" lengthAdjust="spacingAndGlyphs">400 nm</text>
</svg></body></html>
